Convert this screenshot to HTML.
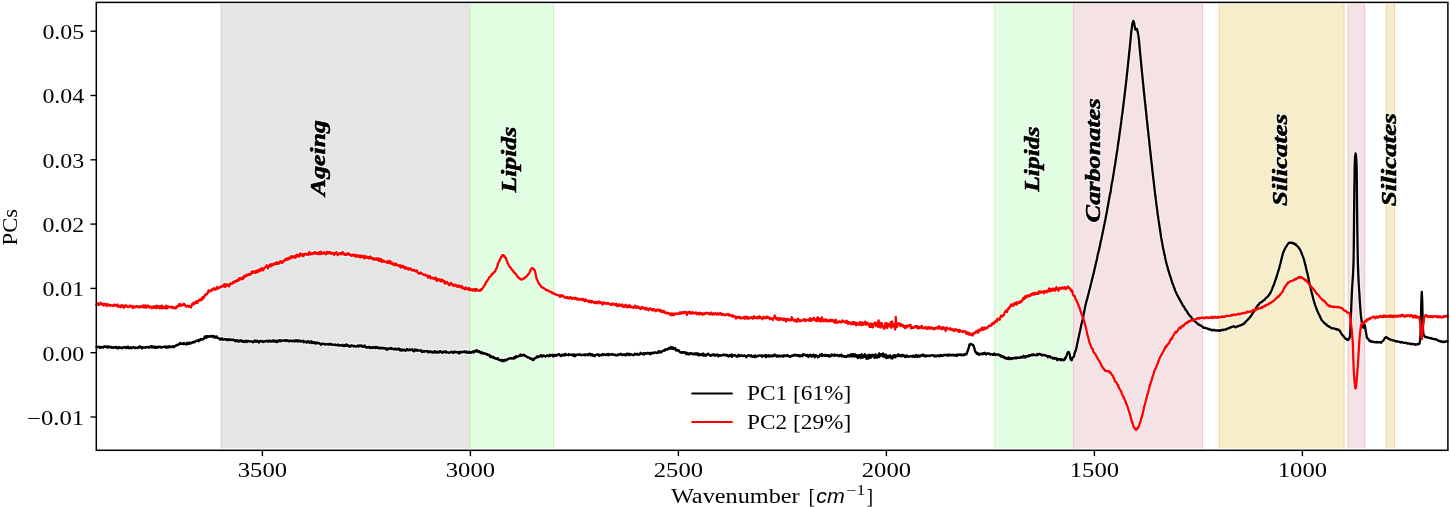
<!DOCTYPE html>
<html><head><meta charset="utf-8"><style>
html,body{margin:0;padding:0;background:#fff;width:1450px;height:507px;overflow:hidden}
svg{display:block;will-change:transform}
.tk{font-family:"Liberation Serif",serif;font-size:20px;fill:#000}
.mi{font-family:"Liberation Sans",sans-serif;font-style:italic;font-size:20px;fill:#000}
.sup{font-family:"Liberation Serif",serif;font-size:14px;fill:#000}
.bl{font-family:"Liberation Serif",serif;font-weight:bold;font-style:italic;font-size:21px;fill:#000;stroke-linejoin:round}
.halo{stroke:#fff;stroke-width:2.6px;stroke-opacity:0.6}
.ink{stroke:#000;stroke-width:0.55px}
</style></head><body>
<svg width="1450" height="507" viewBox="0 0 1450 507">
<rect x="0" y="0" width="1450" height="507" fill="#ffffff"/>
<rect x="221.10" y="3.9" width="249.30" height="444.5" fill="#e4e5e5"/>
<path d="M221.10,3.9V448.4M470.40,3.9V448.4" stroke="#d3d6d6" stroke-width="1.1" fill="none"/>
<rect x="470.40" y="3.9" width="83.20" height="444.5" fill="#e2fee2"/>
<path d="M470.40,3.9V448.4M553.60,3.9V448.4" stroke="#c6fac6" stroke-width="1.1" fill="none"/>
<rect x="994.56" y="3.9" width="79.04" height="444.5" fill="#e2fee2"/>
<path d="M994.56,3.9V448.4M1073.60,3.9V448.4" stroke="#c6fac6" stroke-width="1.1" fill="none"/>
<rect x="1073.60" y="3.9" width="128.96" height="444.5" fill="#f4e2e4"/>
<path d="M1073.60,3.9V448.4M1202.56,3.9V448.4" stroke="#efc6ca" stroke-width="1.1" fill="none"/>
<rect x="1219.20" y="3.9" width="124.80" height="444.5" fill="#f6edcb"/>
<path d="M1219.20,3.9V448.4M1344.00,3.9V448.4" stroke="#eed79a" stroke-width="1.1" fill="none"/>
<rect x="1348.20" y="3.9" width="16.40" height="444.5" fill="#f4e2e4"/>
<path d="M1348.20,3.9V448.4M1364.60,3.9V448.4" stroke="#efc6ca" stroke-width="1.1" fill="none"/>
<rect x="1386.20" y="3.9" width="8.40" height="444.5" fill="#f6edcb"/>
<path d="M1386.20,3.9V448.4M1394.60,3.9V448.4" stroke="#eed79a" stroke-width="1.1" fill="none"/>
<g>
<text transform="translate(324.6,158.0) rotate(-90)" text-anchor="middle" textLength="76" lengthAdjust="spacingAndGlyphs" class="bl halo">Ageing</text><text transform="translate(324.6,158.0) rotate(-90)" text-anchor="middle" textLength="76" lengthAdjust="spacingAndGlyphs" class="bl ink">Ageing</text>
<text transform="translate(516.0,159.7) rotate(-90)" text-anchor="middle" textLength="65.7" lengthAdjust="spacingAndGlyphs" class="bl halo">Lipids</text><text transform="translate(516.0,159.7) rotate(-90)" text-anchor="middle" textLength="65.7" lengthAdjust="spacingAndGlyphs" class="bl ink">Lipids</text>
<text transform="translate(1038.7,159.2) rotate(-90)" text-anchor="middle" textLength="65.2" lengthAdjust="spacingAndGlyphs" class="bl halo">Lipids</text><text transform="translate(1038.7,159.2) rotate(-90)" text-anchor="middle" textLength="65.2" lengthAdjust="spacingAndGlyphs" class="bl ink">Lipids</text>
<text transform="translate(1100.4,160.4) rotate(-90)" text-anchor="middle" textLength="124" lengthAdjust="spacingAndGlyphs" class="bl halo">Carbonates</text><text transform="translate(1100.4,160.4) rotate(-90)" text-anchor="middle" textLength="124" lengthAdjust="spacingAndGlyphs" class="bl ink">Carbonates</text>
<text transform="translate(1287.4,159.9) rotate(-90)" text-anchor="middle" textLength="92.0" lengthAdjust="spacingAndGlyphs" class="bl halo">Silicates</text><text transform="translate(1287.4,159.9) rotate(-90)" text-anchor="middle" textLength="92.0" lengthAdjust="spacingAndGlyphs" class="bl ink">Silicates</text>
<text transform="translate(1396.2,159.7) rotate(-90)" text-anchor="middle" textLength="93.0" lengthAdjust="spacingAndGlyphs" class="bl halo">Silicates</text><text transform="translate(1396.2,159.7) rotate(-90)" text-anchor="middle" textLength="93.0" lengthAdjust="spacingAndGlyphs" class="bl ink">Silicates</text>
</g>
<defs><path id="pr" d="M96.50,304.69 L96.95,303.98 L97.40,303.08 L97.85,303.63 L98.30,303.55 L98.75,304.99 L99.20,304.44 L99.65,304.44 L100.10,303.72 L100.55,302.65 L101.00,303.42 L101.45,303.47 L101.90,304.54 L102.35,304.45 L102.80,303.87 L103.25,304.31 L103.70,305.58 L104.15,304.00 L104.60,303.91 L105.05,304.42 L105.50,304.22 L105.95,304.50 L106.40,305.37 L106.85,306.06 L107.30,303.84 L107.75,304.84 L108.20,305.08 L108.65,305.02 L109.10,304.97 L109.55,305.01 L110.00,305.87 L110.45,305.00 L110.90,305.16 L111.35,305.33 L111.80,305.43 L112.25,305.37 L112.70,306.13 L113.15,305.56 L113.60,305.61 L113.80,305.39 L114.05,304.71 L114.50,304.76 L114.95,304.76 L115.40,305.57 L115.85,305.03 L116.30,304.84 L116.75,305.80 L117.20,305.94 L117.65,304.65 L118.10,306.81 L118.55,305.94 L119.00,305.82 L119.45,306.58 L119.90,305.93 L120.35,305.64 L120.80,307.32 L121.25,305.33 L121.70,305.84 L122.15,306.46 L122.60,305.28 L123.05,305.87 L123.50,306.51 L123.95,307.73 L124.40,305.63 L124.85,306.03 L125.30,306.58 L125.75,306.14 L126.20,305.32 L126.65,306.36 L127.10,306.34 L127.55,306.64 L128.00,307.17 L128.45,307.11 L128.90,306.68 L129.35,306.44 L129.80,305.52 L130.25,306.14 L130.70,306.45 L131.15,306.09 L131.60,306.33 L132.05,305.94 L132.50,307.63 L132.95,308.07 L133.40,306.39 L133.85,306.69 L134.30,306.45 L134.75,307.41 L135.20,306.94 L135.65,306.59 L136.10,306.39 L136.55,306.53 L137.00,305.91 L137.45,306.91 L137.90,306.19 L138.35,306.94 L138.80,306.86 L139.25,307.43 L139.70,306.83 L140.15,307.31 L140.60,306.16 L141.05,307.02 L141.50,306.61 L141.95,306.84 L142.40,306.88 L142.85,307.24 L143.30,305.41 L143.75,306.68 L144.20,305.84 L144.65,307.34 L145.10,305.40 L145.55,305.76 L146.00,305.67 L146.45,307.75 L146.90,306.07 L147.35,306.77 L147.80,306.33 L148.25,305.50 L148.70,306.54 L149.15,307.33 L149.30,306.91 L149.60,307.54 L150.05,306.74 L150.50,306.86 L150.95,306.69 L151.40,307.33 L151.85,308.39 L152.30,307.42 L152.75,307.10 L153.20,306.49 L153.65,306.53 L154.10,307.89 L154.55,306.27 L155.00,306.26 L155.45,306.85 L155.90,306.91 L156.35,308.22 L156.80,305.57 L157.25,307.19 L157.70,307.53 L158.15,306.30 L158.60,306.58 L159.05,307.52 L159.50,308.26 L159.95,306.48 L160.40,306.01 L160.85,307.85 L161.30,308.32 L161.75,306.87 L162.20,305.69 L162.65,308.01 L163.10,307.28 L163.55,307.99 L164.00,307.25 L164.45,306.90 L164.90,307.00 L165.35,308.38 L165.80,308.21 L166.25,305.75 L166.70,306.54 L167.15,308.42 L167.60,307.03 L168.05,306.25 L168.50,307.14 L168.95,307.19 L169.40,307.16 L169.85,306.90 L170.30,306.98 L170.75,306.96 L171.20,307.42 L171.65,306.71 L172.10,307.00 L172.55,307.29 L173.00,308.26 L173.45,307.68 L173.90,307.30 L174.10,307.71 L174.35,307.73 L174.80,308.11 L175.25,307.77 L175.70,308.47 L176.15,307.98 L176.60,306.73 L177.05,306.25 L177.50,306.91 L177.95,306.50 L178.40,305.70 L178.85,304.43 L179.30,304.07 L179.75,305.49 L180.20,305.88 L180.65,305.67 L181.10,304.34 L181.20,305.68 L181.55,304.85 L182.00,305.40 L182.45,305.43 L182.90,304.63 L183.35,304.61 L183.80,303.74 L184.25,304.44 L184.70,304.20 L185.15,305.80 L185.60,305.90 L186.05,306.53 L186.50,306.22 L186.95,305.63 L187.40,306.27 L187.85,306.00 L188.30,306.69 L188.75,306.51 L189.20,305.68 L189.65,306.31 L190.10,306.41 L190.10,306.26 L190.55,307.12 L191.00,307.49 L191.45,305.84 L191.90,305.21 L192.35,303.70 L192.80,304.65 L193.25,304.07 L193.70,302.61 L194.15,303.85 L194.60,303.78 L195.05,302.53 L195.40,302.38 L195.50,302.07 L195.95,302.78 L196.40,301.12 L196.85,301.72 L197.30,303.03 L197.75,301.64 L198.20,301.46 L198.65,300.71 L199.10,299.75 L199.55,300.26 L200.00,300.28 L200.45,299.14 L200.90,299.79 L201.35,300.25 L201.80,299.65 L202.25,297.46 L202.50,297.41 L202.70,297.09 L203.15,298.54 L203.60,298.03 L204.05,297.45 L204.50,295.81 L204.95,295.06 L205.40,295.42 L205.85,294.94 L206.30,293.82 L206.75,293.99 L207.20,293.90 L207.65,293.06 L208.10,291.57 L208.55,290.44 L209.00,291.35 L209.45,291.46 L209.60,291.09 L209.90,290.73 L210.35,290.39 L210.80,291.07 L211.25,290.43 L211.70,290.16 L212.15,289.20 L212.60,289.22 L213.05,289.52 L213.50,288.53 L213.95,288.14 L214.40,288.75 L214.85,289.67 L215.30,289.03 L215.75,289.54 L216.20,288.33 L216.65,287.81 L217.10,286.93 L217.55,287.44 L218.00,288.71 L218.45,287.98 L218.90,288.01 L219.35,287.81 L219.80,287.12 L220.25,286.78 L220.30,287.03 L220.70,287.29 L221.15,287.04 L221.60,286.86 L222.05,286.39 L222.50,285.60 L222.95,285.68 L223.40,285.27 L223.85,286.20 L224.30,284.18 L224.75,285.36 L225.20,287.03 L225.65,285.10 L226.10,284.26 L226.55,284.98 L227.00,285.76 L227.45,284.78 L227.90,285.03 L228.35,284.56 L228.80,284.36 L229.25,286.45 L229.70,284.36 L230.15,283.51 L230.60,283.43 L231.05,283.92 L231.50,283.90 L231.95,283.96 L232.40,283.24 L232.85,282.07 L233.30,283.10 L233.75,282.50 L234.20,282.15 L234.50,281.25 L234.65,281.73 L235.10,281.56 L235.55,281.71 L236.00,280.67 L236.45,281.40 L236.90,281.24 L237.35,280.14 L237.80,280.11 L238.25,279.88 L238.70,280.55 L239.15,278.16 L239.60,279.03 L240.05,278.10 L240.50,278.70 L240.95,279.31 L241.40,278.14 L241.85,278.19 L242.30,277.52 L242.75,279.06 L243.20,278.31 L243.65,277.87 L244.10,275.87 L244.55,275.74 L245.00,276.96 L245.45,275.98 L245.90,275.63 L246.35,275.68 L246.80,274.54 L246.90,275.75 L247.25,275.26 L247.70,275.21 L248.15,274.33 L248.60,274.76 L249.05,273.95 L249.50,274.85 L249.95,274.92 L250.40,274.56 L250.85,274.08 L251.30,273.64 L251.75,271.38 L252.20,273.35 L252.65,272.73 L253.10,272.68 L253.55,272.16 L254.00,271.23 L254.45,271.67 L254.90,272.50 L255.35,272.79 L255.80,271.18 L256.00,270.92 L256.25,272.28 L256.70,270.89 L257.15,272.45 L257.60,270.99 L258.05,270.11 L258.50,271.25 L258.95,271.46 L259.40,269.36 L259.85,270.88 L260.30,269.80 L260.75,270.55 L261.20,269.07 L261.65,268.04 L262.10,269.28 L262.55,269.69 L263.00,270.35 L263.45,269.91 L263.90,268.87 L264.35,267.89 L264.80,267.44 L265.25,267.34 L265.70,266.84 L266.15,266.81 L266.60,265.28 L267.05,266.84 L267.50,266.98 L267.95,268.49 L268.40,267.13 L268.85,265.98 L269.30,266.28 L269.75,264.96 L270.20,264.96 L270.65,264.22 L271.10,266.23 L271.55,265.59 L272.00,264.16 L272.45,264.72 L272.90,265.33 L273.35,264.91 L273.80,264.50 L274.25,263.45 L274.70,263.39 L275.15,263.84 L275.60,264.17 L276.05,262.79 L276.50,262.46 L276.95,263.71 L277.40,262.44 L277.70,263.51 L277.85,263.10 L278.30,263.39 L278.75,263.81 L279.20,262.97 L279.65,262.62 L280.10,261.25 L280.55,261.21 L281.00,262.10 L281.45,262.68 L281.90,262.57 L282.35,262.87 L282.80,261.32 L283.25,260.96 L283.70,261.27 L284.15,260.45 L284.60,260.04 L285.05,259.33 L285.50,260.36 L285.95,259.02 L286.40,259.63 L286.85,258.44 L287.30,259.72 L287.75,258.42 L288.20,259.19 L288.65,257.55 L289.10,258.14 L289.55,259.07 L290.00,257.71 L290.45,257.95 L290.90,257.32 L291.35,256.04 L291.80,257.62 L292.25,257.66 L292.70,256.57 L293.15,257.38 L293.60,256.39 L294.05,256.08 L294.50,256.59 L294.95,256.33 L295.40,257.94 L295.85,255.53 L296.30,256.74 L296.75,256.75 L297.20,254.56 L297.65,254.57 L298.10,256.06 L298.55,255.50 L299.00,256.01 L299.40,256.42 L299.45,255.33 L299.90,254.47 L300.35,253.39 L300.80,255.17 L301.25,254.65 L301.70,255.36 L302.15,255.19 L302.60,254.22 L303.05,256.17 L303.50,255.89 L303.95,255.41 L304.40,253.92 L304.85,254.20 L305.30,254.11 L305.75,254.05 L306.20,253.62 L306.65,254.59 L307.10,254.52 L307.55,254.45 L308.00,253.93 L308.45,254.98 L308.90,254.02 L309.35,251.94 L309.80,253.17 L310.25,253.81 L310.70,254.43 L311.15,253.55 L311.60,253.38 L312.05,253.15 L312.50,253.92 L312.95,253.17 L313.40,252.90 L313.85,252.85 L314.30,253.63 L314.75,252.82 L315.20,252.07 L315.65,253.46 L316.10,252.78 L316.55,253.39 L317.00,253.54 L317.45,254.10 L317.90,253.89 L318.35,252.73 L318.80,252.76 L319.25,252.23 L319.70,254.15 L320.15,253.60 L320.60,254.02 L321.05,252.71 L321.10,251.63 L321.50,253.93 L321.95,253.22 L322.40,253.11 L322.85,253.12 L323.30,253.53 L323.75,253.31 L324.20,252.02 L324.65,253.62 L325.10,252.71 L325.55,252.81 L326.00,254.33 L326.45,253.84 L326.90,252.74 L327.35,251.72 L327.80,253.08 L328.25,253.49 L328.70,252.98 L329.15,252.14 L329.60,252.34 L330.05,252.19 L330.50,253.27 L330.95,253.87 L331.40,253.93 L331.85,252.79 L332.30,253.37 L332.75,253.61 L333.20,252.92 L333.65,253.31 L334.10,254.82 L334.55,253.72 L335.00,253.94 L335.45,253.11 L335.90,253.20 L336.35,252.15 L336.80,253.34 L337.25,254.47 L337.70,255.17 L338.15,254.58 L338.60,254.09 L339.05,253.55 L339.50,253.09 L339.95,253.44 L340.40,253.93 L340.85,253.17 L341.30,254.13 L341.75,252.86 L342.20,252.21 L342.65,252.65 L342.80,252.29 L343.10,252.68 L343.55,254.42 L344.00,253.75 L344.45,254.05 L344.90,254.81 L345.35,254.85 L345.80,253.79 L346.25,254.91 L346.70,254.41 L347.15,254.14 L347.60,254.30 L348.05,253.11 L348.50,253.52 L348.95,254.19 L349.40,254.73 L349.85,254.17 L350.30,254.42 L350.75,255.34 L351.20,255.77 L351.65,255.45 L352.10,255.68 L352.55,254.60 L353.00,254.64 L353.45,255.12 L353.90,254.79 L354.35,254.85 L354.80,256.30 L355.25,255.17 L355.70,254.66 L356.15,255.84 L356.60,256.86 L357.05,255.90 L357.50,256.50 L357.95,255.48 L358.40,255.35 L358.85,255.34 L359.30,255.97 L359.75,257.26 L360.20,255.62 L360.65,257.20 L361.10,255.70 L361.55,256.20 L362.00,257.10 L362.45,257.10 L362.90,256.73 L363.35,255.57 L363.80,256.80 L364.25,256.38 L364.50,258.64 L364.70,257.03 L365.15,257.03 L365.60,256.24 L366.05,256.60 L366.50,256.36 L366.95,257.90 L367.40,257.36 L367.85,257.81 L368.30,257.09 L368.75,257.35 L369.20,258.53 L369.65,257.08 L370.10,256.56 L370.55,258.02 L371.00,257.26 L371.45,257.83 L371.90,258.80 L372.35,257.92 L372.80,258.93 L373.25,258.25 L373.70,259.75 L374.15,259.76 L374.60,258.57 L375.05,258.63 L375.50,258.39 L375.95,259.26 L376.40,259.90 L376.85,258.43 L377.30,259.80 L377.75,258.54 L378.20,258.69 L378.65,258.51 L379.10,261.15 L379.55,260.15 L380.00,260.12 L380.00,259.63 L380.45,260.63 L380.90,258.80 L381.35,260.36 L381.80,262.00 L382.25,260.48 L382.70,260.71 L383.15,261.21 L383.60,260.39 L384.05,261.07 L384.50,261.87 L384.95,261.54 L385.40,261.66 L385.85,261.35 L386.30,261.87 L386.75,262.00 L387.20,263.05 L387.65,262.69 L388.10,261.86 L388.55,260.61 L389.00,262.82 L389.45,263.12 L389.90,261.96 L390.35,261.24 L390.80,262.08 L391.25,263.60 L391.70,262.55 L392.15,263.00 L392.60,263.77 L392.80,264.50 L393.05,263.76 L393.50,263.69 L393.95,263.69 L394.40,265.30 L394.85,265.13 L395.30,264.26 L395.75,263.41 L396.20,263.99 L396.65,265.06 L397.10,264.53 L397.55,265.67 L398.00,265.57 L398.45,265.64 L398.90,266.03 L399.35,265.97 L399.80,265.17 L400.25,265.82 L400.70,267.61 L401.15,265.51 L401.60,266.01 L402.05,267.22 L402.50,266.56 L402.95,266.09 L403.40,265.98 L403.85,267.47 L404.30,268.17 L404.75,268.52 L405.20,267.82 L405.60,268.36 L405.65,267.08 L406.10,267.84 L406.55,267.57 L407.00,268.32 L407.45,269.00 L407.90,269.25 L408.35,268.16 L408.80,269.61 L409.25,268.67 L409.70,268.36 L410.15,268.97 L410.60,268.42 L411.05,269.55 L411.50,270.01 L411.95,269.92 L412.40,270.50 L412.85,270.15 L413.30,270.34 L413.75,269.63 L414.20,270.66 L414.65,270.36 L415.10,270.77 L415.55,271.27 L416.00,271.51 L416.45,270.39 L416.90,270.58 L417.35,271.74 L417.80,272.57 L418.25,272.78 L418.70,273.37 L419.15,273.81 L419.60,273.39 L420.05,273.03 L420.50,272.44 L420.95,272.63 L421.40,273.22 L421.85,273.96 L422.30,274.15 L422.75,274.14 L423.20,274.25 L423.65,274.94 L424.10,274.88 L424.55,275.08 L425.00,275.19 L425.45,274.70 L425.90,274.58 L426.35,275.79 L426.80,275.99 L427.25,275.67 L427.70,275.88 L428.15,277.69 L428.60,275.96 L429.05,276.28 L429.50,276.71 L429.95,276.01 L430.40,277.11 L430.50,278.39 L430.85,278.01 L431.30,277.87 L431.75,277.93 L432.20,277.82 L432.65,278.44 L433.10,277.85 L433.55,277.76 L434.00,278.35 L434.45,279.08 L434.90,278.93 L435.35,279.04 L435.80,277.57 L436.25,279.90 L436.70,281.09 L437.15,280.47 L437.60,279.30 L438.05,279.03 L438.50,279.83 L438.95,279.33 L439.40,280.50 L439.85,280.04 L440.30,281.19 L440.75,281.46 L441.20,279.41 L441.65,280.84 L442.10,280.43 L442.55,280.05 L443.00,280.74 L443.45,281.36 L443.90,282.22 L444.35,280.88 L444.80,282.73 L445.25,283.68 L445.70,282.89 L446.15,282.82 L446.60,282.46 L447.05,281.87 L447.50,283.13 L447.95,283.35 L448.40,283.89 L448.85,285.22 L449.30,284.18 L449.75,284.04 L450.20,284.70 L450.65,282.87 L451.10,282.96 L451.55,283.64 L452.00,283.77 L452.45,284.76 L452.90,284.47 L453.35,285.97 L453.80,286.06 L454.00,285.46 L454.25,284.72 L454.70,285.48 L455.15,285.67 L455.60,284.58 L456.05,285.58 L456.50,286.04 L456.95,285.96 L457.40,286.97 L457.85,286.77 L458.30,285.47 L458.75,286.00 L459.20,285.64 L459.65,286.57 L460.00,285.91 L460.10,287.05 L460.55,287.01 L461.00,287.41 L461.45,286.67 L461.90,286.06 L462.35,288.23 L462.80,287.40 L463.25,288.40 L463.70,288.02 L464.15,288.36 L464.60,289.22 L465.05,288.49 L465.50,289.00 L465.95,287.37 L466.40,288.84 L466.85,288.39 L467.30,288.51 L467.75,288.77 L468.20,289.26 L468.65,290.03 L469.10,287.89 L469.55,288.97 L469.70,288.79 L470.00,290.00 L470.45,289.19 L470.90,289.70 L471.35,289.35 L471.80,290.17 L472.25,290.48 L472.70,289.63 L473.15,289.78 L473.60,289.01 L474.05,290.25 L474.50,290.76 L474.95,290.02 L475.40,290.88 L475.85,288.82 L476.30,288.79 L476.75,289.27 L477.20,290.05 L477.65,290.52 L478.10,290.56 L478.55,290.60 L478.90,290.79 L479.00,290.44 L479.45,290.11 L479.90,290.07 L480.35,290.67 L480.80,289.34 L481.25,289.58 L481.50,289.93 L481.70,289.50 L482.15,288.61 L482.60,288.18 L483.05,287.73 L483.50,287.05 L483.70,286.21 L483.95,286.22 L484.40,285.46 L484.85,284.96 L485.30,284.26 L485.75,282.96 L486.20,281.87 L486.65,281.64 L487.10,281.30 L487.55,280.27 L488.00,279.45 L488.45,279.24 L488.90,277.74 L489.35,277.52 L489.60,276.87 L489.80,276.76 L490.25,276.34 L490.70,276.19 L491.15,275.11 L491.60,274.67 L492.05,274.02 L492.50,274.10 L492.95,273.47 L493.10,273.47 L493.40,272.76 L493.85,272.49 L494.30,272.38 L494.75,271.57 L495.20,271.15 L495.50,270.66 L495.65,270.11 L496.10,268.90 L496.55,268.47 L497.00,267.14 L497.45,265.98 L497.90,263.92 L498.35,262.73 L498.50,262.29 L498.80,261.99 L499.25,261.46 L499.70,260.26 L500.15,259.05 L500.60,258.20 L501.00,257.71 L501.05,257.39 L501.50,256.91 L501.95,256.18 L502.40,255.07 L502.85,255.24 L503.20,255.66 L503.30,255.24 L503.75,255.44 L504.20,255.76 L504.65,256.42 L505.10,257.50 L505.30,257.43 L505.55,257.52 L506.00,258.04 L506.45,259.91 L506.90,260.90 L507.35,262.12 L507.50,263.19 L507.80,263.74 L508.25,263.89 L508.70,265.34 L509.15,265.99 L509.60,266.35 L510.05,267.31 L510.50,267.33 L510.95,267.97 L511.00,268.00 L511.40,268.70 L511.85,269.80 L512.30,269.82 L512.75,270.37 L513.20,271.02 L513.65,271.88 L514.10,272.33 L514.55,273.12 L515.00,273.19 L515.45,273.49 L515.90,274.20 L516.00,274.46 L516.35,274.63 L516.80,275.54 L517.25,276.51 L517.70,276.47 L518.15,277.18 L518.60,278.05 L519.05,278.00 L519.50,278.29 L519.95,278.60 L520.40,279.27 L520.85,279.44 L521.00,279.27 L521.30,279.34 L521.75,279.62 L522.20,279.37 L522.65,278.60 L523.10,278.75 L523.55,278.65 L524.00,278.56 L524.45,278.05 L524.90,277.64 L525.35,277.36 L525.50,276.96 L525.80,277.19 L526.25,276.75 L526.70,276.53 L527.15,275.65 L527.60,275.19 L528.05,274.45 L528.50,273.86 L528.95,273.70 L529.00,273.40 L529.40,272.91 L529.85,271.62 L530.30,270.84 L530.75,269.42 L531.20,268.83 L531.65,268.26 L532.10,268.25 L532.20,268.15 L532.55,268.13 L533.00,268.61 L533.45,268.84 L533.90,269.41 L534.35,270.02 L534.50,269.98 L534.80,270.54 L535.25,272.27 L535.70,274.17 L536.15,276.57 L536.60,278.70 L536.90,279.56 L537.05,279.54 L537.50,280.35 L537.95,281.63 L538.40,282.56 L538.85,283.63 L539.30,283.93 L539.50,284.24 L539.75,284.80 L540.20,285.04 L540.65,285.65 L541.10,286.66 L541.55,287.06 L542.00,287.18 L542.45,287.37 L542.80,287.33 L542.90,287.79 L543.35,288.04 L543.80,288.36 L544.25,288.48 L544.70,288.88 L545.15,289.15 L545.60,289.60 L546.05,290.16 L546.50,290.07 L546.95,289.72 L547.40,290.07 L547.85,290.18 L548.30,290.66 L548.75,291.30 L548.80,291.30 L549.20,291.23 L549.65,291.63 L550.10,291.55 L550.55,291.53 L551.00,291.73 L551.45,292.16 L551.90,292.93 L552.35,292.50 L552.80,293.34 L553.25,293.59 L553.70,293.35 L554.00,293.44 L554.15,293.37 L554.60,293.73 L555.05,294.12 L555.50,294.20 L555.95,294.66 L556.40,294.92 L556.85,294.88 L557.30,295.02 L557.75,295.11 L558.20,295.34 L558.65,295.16 L559.10,295.69 L559.55,295.79 L560.00,295.54 L560.00,296.97 L560.45,295.52 L560.90,295.55 L561.35,296.17 L561.80,295.17 L562.25,295.72 L562.70,295.52 L563.15,295.94 L563.60,296.59 L564.05,297.05 L564.50,297.60 L564.95,297.60 L565.40,297.84 L565.85,297.53 L566.30,297.07 L566.75,297.87 L567.20,297.13 L567.65,297.17 L568.10,298.42 L568.55,298.19 L569.00,297.92 L569.45,298.28 L569.90,298.30 L570.00,297.13 L570.35,297.69 L570.80,297.33 L571.25,298.02 L571.70,297.88 L572.15,299.00 L572.60,298.64 L573.05,297.95 L573.50,298.30 L573.95,297.83 L574.40,298.57 L574.85,299.01 L575.30,298.79 L575.75,297.70 L576.20,298.59 L576.65,299.24 L577.10,299.32 L577.55,299.69 L578.00,298.54 L578.45,299.39 L578.90,298.97 L579.35,299.46 L579.80,299.73 L580.25,299.88 L580.70,299.30 L581.15,299.62 L581.60,298.95 L582.05,298.92 L582.50,300.06 L582.95,299.81 L583.40,298.99 L583.85,299.45 L584.30,300.19 L584.75,301.17 L585.10,301.03 L585.20,300.68 L585.65,299.37 L586.10,300.27 L586.55,300.79 L587.00,300.87 L587.45,300.90 L587.90,300.75 L588.35,301.91 L588.80,301.85 L589.25,300.94 L589.70,300.62 L590.15,302.19 L590.60,301.11 L591.05,302.06 L591.50,302.47 L591.95,301.05 L592.40,301.59 L592.85,301.45 L593.30,301.97 L593.75,302.11 L594.20,303.01 L594.65,302.38 L595.10,302.10 L595.55,302.68 L596.00,302.03 L596.45,302.14 L596.90,303.48 L597.35,302.00 L597.80,302.09 L598.25,302.41 L598.70,301.81 L599.15,301.42 L599.60,303.10 L600.00,302.34 L600.05,302.37 L600.50,302.51 L600.95,302.23 L601.40,302.28 L601.85,303.21 L602.30,304.53 L602.75,303.80 L603.20,303.58 L603.65,302.46 L604.10,303.12 L604.55,302.76 L605.00,303.79 L605.45,303.44 L605.90,303.57 L606.35,303.54 L606.80,303.23 L607.25,302.87 L607.70,303.92 L608.15,303.02 L608.60,303.11 L609.05,303.66 L609.50,303.62 L609.95,304.25 L610.40,304.75 L610.85,304.42 L611.30,304.38 L611.75,304.39 L612.20,304.72 L612.65,303.43 L613.10,304.47 L613.55,303.92 L614.00,303.79 L614.45,304.51 L614.90,304.50 L615.35,305.12 L615.80,305.29 L616.25,303.57 L616.70,304.82 L617.15,306.13 L617.60,305.74 L618.05,305.95 L618.50,305.16 L618.95,304.26 L619.40,304.51 L619.85,305.66 L620.30,305.87 L620.75,305.00 L621.20,305.24 L621.65,305.48 L622.10,304.52 L622.55,305.37 L623.00,306.70 L623.45,307.06 L623.90,305.98 L624.35,306.81 L624.80,305.63 L625.25,305.25 L625.70,304.69 L626.15,306.39 L626.60,306.11 L627.05,307.49 L627.50,306.57 L627.95,306.26 L628.40,305.40 L628.85,307.08 L629.30,306.32 L629.50,306.18 L629.75,305.28 L630.20,307.00 L630.65,307.20 L631.10,306.40 L631.55,306.76 L632.00,307.09 L632.45,307.43 L632.90,307.15 L633.35,307.94 L633.80,306.96 L634.25,306.67 L634.70,306.63 L635.15,305.63 L635.60,306.67 L636.05,307.84 L636.50,307.53 L636.95,306.99 L637.40,307.47 L637.85,306.38 L638.30,307.32 L638.75,307.98 L639.20,308.09 L639.65,307.44 L640.10,308.43 L640.55,309.00 L641.00,307.88 L641.45,308.29 L641.90,307.08 L642.35,306.92 L642.80,308.40 L643.25,308.33 L643.70,308.38 L644.15,308.02 L644.60,308.28 L645.05,309.06 L645.50,309.59 L645.95,308.50 L646.40,307.81 L646.85,309.40 L647.30,309.30 L647.75,309.33 L648.20,309.26 L648.65,310.37 L649.10,309.33 L649.55,309.31 L650.00,308.14 L650.45,308.77 L650.90,308.92 L651.35,309.39 L651.80,309.64 L652.25,309.29 L652.70,310.51 L653.15,309.20 L653.40,309.44 L653.60,309.81 L654.05,309.21 L654.50,310.24 L654.95,310.42 L655.40,310.13 L655.85,311.28 L656.30,310.49 L656.75,310.47 L657.20,309.81 L657.65,309.47 L658.10,310.13 L658.55,310.47 L659.00,310.59 L659.45,311.15 L659.90,309.61 L660.35,310.15 L660.80,310.16 L661.25,311.90 L661.70,311.13 L662.15,311.08 L662.60,310.99 L663.05,312.10 L663.50,311.64 L663.80,311.82 L663.95,310.83 L664.40,312.57 L664.85,312.48 L665.30,312.69 L665.75,313.13 L666.20,312.50 L666.65,312.63 L667.10,313.27 L667.55,313.27 L668.00,313.03 L668.45,313.26 L668.90,313.20 L669.35,314.02 L669.80,314.31 L670.25,314.05 L670.70,314.94 L671.15,313.31 L671.60,314.06 L672.05,315.21 L672.50,314.11 L672.95,313.55 L673.40,315.17 L673.85,314.79 L674.10,313.87 L674.30,314.75 L674.75,313.81 L675.20,313.54 L675.65,314.12 L676.10,313.89 L676.55,313.47 L677.00,313.70 L677.45,313.34 L677.90,313.78 L678.35,313.73 L678.80,313.95 L679.25,313.11 L679.70,312.38 L680.15,312.27 L680.60,312.89 L681.05,313.82 L681.50,313.33 L681.95,312.42 L682.40,312.99 L682.85,311.97 L683.30,312.91 L683.75,312.30 L684.20,312.83 L684.40,312.76 L684.65,312.28 L685.10,312.47 L685.55,311.80 L686.00,312.38 L686.45,313.36 L686.90,314.98 L687.35,313.23 L687.80,312.60 L688.25,312.11 L688.70,313.08 L689.15,311.77 L689.60,312.20 L690.05,312.86 L690.50,312.29 L690.95,313.77 L691.40,313.63 L691.85,312.67 L692.00,312.51 L692.30,312.08 L692.75,312.14 L693.20,313.24 L693.65,313.48 L694.10,313.36 L694.55,313.25 L695.00,312.86 L695.45,313.22 L695.90,312.36 L696.35,313.21 L696.80,314.17 L697.25,314.08 L697.70,313.07 L698.15,313.16 L698.60,314.21 L699.05,314.35 L699.50,312.58 L699.95,313.03 L700.40,313.58 L700.85,314.07 L701.30,313.08 L701.75,313.74 L702.20,313.51 L702.65,314.87 L703.10,313.92 L703.55,313.46 L704.00,313.42 L704.45,314.20 L704.90,313.98 L705.35,313.05 L705.80,313.58 L706.25,312.84 L706.70,313.05 L707.15,312.80 L707.60,312.81 L708.05,313.18 L708.40,313.19 L708.50,314.07 L708.95,314.28 L709.40,313.66 L709.85,313.24 L710.30,314.10 L710.75,312.64 L711.20,312.70 L711.65,314.26 L712.10,314.45 L712.55,314.56 L713.00,313.84 L713.45,313.22 L713.90,313.68 L714.35,314.28 L714.80,313.61 L715.25,313.52 L715.70,313.16 L716.15,313.40 L716.60,314.57 L717.05,314.39 L717.50,313.46 L717.95,313.44 L718.40,313.85 L718.85,314.43 L719.30,313.61 L719.75,313.94 L720.20,312.95 L720.65,313.47 L721.10,314.56 L721.55,314.84 L722.00,313.74 L722.45,313.95 L722.90,314.83 L723.35,314.27 L723.80,314.21 L724.25,314.82 L724.70,314.81 L725.15,315.32 L725.60,315.14 L726.05,314.40 L726.50,314.61 L726.95,314.62 L727.40,313.95 L727.85,314.26 L728.30,315.27 L728.75,314.17 L729.20,315.47 L729.65,315.27 L730.10,315.08 L730.55,315.49 L731.00,315.62 L731.45,315.98 L731.90,315.18 L732.10,315.19 L732.35,315.40 L732.80,316.74 L733.25,316.48 L733.70,315.68 L734.15,316.19 L734.60,316.38 L735.05,317.05 L735.50,317.57 L735.95,318.58 L736.00,316.56 L736.40,317.88 L736.85,317.67 L737.30,317.03 L737.75,317.25 L738.20,317.14 L738.65,317.51 L739.10,317.93 L739.55,316.76 L740.00,318.10 L740.45,317.48 L740.90,318.37 L741.35,317.94 L741.80,318.30 L742.25,318.02 L742.70,318.20 L743.15,317.59 L743.60,317.12 L744.05,317.93 L744.50,318.17 L744.95,318.68 L745.40,316.55 L745.85,317.39 L746.30,318.08 L746.75,316.92 L747.20,317.52 L747.65,318.90 L748.10,318.50 L748.55,317.29 L749.00,318.44 L749.45,318.44 L749.90,318.17 L750.35,317.90 L750.80,317.71 L751.25,317.09 L751.70,317.31 L752.15,318.01 L752.60,317.89 L753.05,318.68 L753.50,317.39 L753.95,316.19 L754.40,317.28 L754.85,317.80 L755.30,317.88 L755.75,317.64 L756.20,317.28 L756.65,318.40 L757.10,317.42 L757.55,317.99 L758.00,317.45 L758.45,317.04 L758.90,318.21 L759.35,316.25 L759.80,317.02 L760.25,317.87 L760.70,317.52 L761.15,318.18 L761.60,317.63 L762.05,317.54 L762.50,319.22 L762.95,317.72 L763.40,317.46 L763.85,316.82 L764.30,317.12 L764.75,318.19 L765.20,318.21 L765.65,317.73 L766.10,317.29 L766.55,318.04 L767.00,316.53 L767.45,317.34 L767.60,317.48 L767.90,317.15 L768.35,317.78 L768.80,317.26 L769.25,317.34 L769.70,319.20 L770.15,318.71 L770.60,318.87 L771.05,318.16 L771.50,318.75 L771.95,318.77 L772.40,319.22 L772.85,319.92 L773.30,318.14 L773.75,318.27 L774.20,317.79 L774.65,315.35 L775.10,316.81 L775.55,318.18 L776.00,318.71 L776.45,318.05 L776.90,319.30 L777.35,319.46 L777.80,318.38 L778.25,319.71 L778.70,320.07 L779.15,319.00 L779.60,318.03 L780.05,319.68 L780.50,318.67 L780.95,318.43 L781.40,318.78 L781.85,318.51 L782.30,319.73 L782.75,319.75 L783.20,320.05 L783.65,319.49 L784.10,318.44 L784.55,318.95 L785.00,319.75 L785.45,319.20 L785.90,321.47 L786.35,319.26 L786.80,318.88 L787.25,320.25 L787.30,320.02 L787.70,319.36 L788.15,319.22 L788.60,319.82 L789.05,320.26 L789.50,320.18 L789.95,319.42 L790.40,320.00 L790.85,320.46 L791.30,320.08 L791.75,317.14 L792.20,318.62 L792.65,319.05 L793.10,319.61 L793.55,320.14 L794.00,320.82 L794.45,320.61 L794.90,320.00 L795.35,320.27 L795.80,321.56 L796.25,319.84 L796.70,320.55 L797.15,321.64 L797.60,320.48 L798.05,318.55 L798.50,320.34 L798.95,319.98 L799.40,320.27 L799.85,321.27 L800.00,320.80 L800.30,320.22 L800.75,321.11 L801.20,320.79 L801.65,320.46 L802.10,320.59 L802.55,320.50 L803.00,319.93 L803.45,319.80 L803.90,320.10 L804.35,319.22 L804.80,319.10 L805.25,321.22 L805.70,320.10 L806.15,320.10 L806.60,320.02 L807.05,320.13 L807.50,320.14 L807.95,320.06 L808.40,319.43 L808.85,320.74 L809.30,319.61 L809.75,320.67 L810.20,318.17 L810.65,318.85 L811.10,320.74 L811.55,319.82 L812.00,319.29 L812.45,320.04 L812.90,318.92 L813.35,319.53 L813.80,317.65 L814.25,319.03 L814.70,319.18 L815.15,320.33 L815.60,320.58 L816.05,319.22 L816.50,321.14 L816.95,319.10 L817.40,317.34 L817.85,317.31 L818.30,320.92 L818.75,319.73 L819.20,318.96 L819.65,318.74 L819.70,318.69 L820.10,320.90 L820.55,320.01 L821.00,321.46 L821.45,319.46 L821.90,317.49 L822.35,320.27 L822.80,319.50 L823.25,319.74 L823.70,321.36 L824.15,319.97 L824.60,321.06 L825.05,320.01 L825.50,319.31 L825.95,320.39 L826.40,319.71 L826.85,321.43 L827.30,321.32 L827.75,320.51 L828.20,321.00 L828.65,320.97 L829.10,320.32 L829.55,321.31 L830.00,320.49 L830.45,321.06 L830.90,319.78 L831.35,320.74 L831.80,321.10 L832.25,320.04 L832.70,320.31 L833.15,320.46 L833.60,321.59 L834.05,320.50 L834.50,321.68 L834.95,322.82 L835.40,321.60 L835.85,319.75 L836.30,321.42 L836.75,322.44 L837.20,321.45 L837.65,322.67 L838.10,322.38 L838.55,322.08 L839.00,321.39 L839.45,321.13 L839.50,321.40 L839.90,321.84 L840.35,322.37 L840.80,322.27 L841.25,321.63 L841.70,321.98 L842.15,322.14 L842.60,320.34 L843.05,320.97 L843.50,321.16 L843.95,321.77 L844.40,321.81 L844.85,321.78 L845.30,321.41 L845.75,322.83 L846.20,322.44 L846.65,320.76 L847.10,322.04 L847.55,321.51 L848.00,323.89 L848.45,322.19 L848.90,322.08 L849.35,322.55 L849.80,322.39 L850.25,322.72 L850.70,324.17 L851.15,323.19 L851.60,323.69 L852.05,323.83 L852.50,322.18 L852.95,324.44 L853.40,323.86 L853.85,323.81 L854.30,322.30 L854.75,323.72 L855.20,323.45 L855.65,322.84 L856.10,325.36 L856.55,323.94 L857.00,323.00 L857.45,323.47 L857.90,324.32 L858.35,324.61 L858.80,324.20 L859.20,324.87 L859.25,324.87 L859.70,322.19 L860.15,322.59 L860.60,322.37 L861.05,323.65 L861.50,325.22 L861.95,324.34 L862.40,322.45 L862.85,323.29 L863.30,324.75 L863.75,323.21 L864.20,323.59 L864.65,323.86 L865.10,321.72 L865.55,324.61 L866.00,324.55 L866.45,324.57 L866.90,322.64 L867.35,322.70 L867.80,323.14 L868.25,324.35 L868.70,324.29 L869.15,324.69 L869.60,327.13 L870.05,326.42 L870.50,323.30 L870.95,323.49 L871.40,326.90 L871.85,324.50 L872.30,326.97 L872.75,327.33 L873.20,323.86 L873.65,323.97 L874.10,324.47 L874.55,322.87 L875.00,322.58 L875.45,323.92 L875.90,326.11 L876.35,324.06 L876.80,324.18 L877.25,323.54 L877.70,322.43 L878.15,326.92 L878.60,320.45 L878.90,323.18 L879.05,325.57 L879.50,322.45 L879.95,326.24 L880.40,327.59 L880.85,323.70 L881.30,325.07 L881.75,323.04 L882.20,326.02 L882.65,325.64 L883.10,326.14 L883.55,328.41 L884.00,327.09 L884.45,328.55 L884.90,326.84 L885.35,323.22 L885.80,325.90 L886.25,326.29 L886.70,323.10 L887.15,328.05 L887.60,326.27 L888.05,326.26 L888.50,324.07 L888.95,325.79 L889.40,326.35 L889.85,325.31 L890.30,325.45 L890.75,322.23 L891.20,327.73 L891.65,323.71 L892.10,321.54 L892.55,323.60 L893.00,324.45 L893.45,326.58 L893.90,324.65 L894.35,326.12 L894.80,324.97 L895.20,329.51 L895.25,327.59 L895.70,321.62 L895.80,316.96 L896.15,323.80 L896.40,325.01 L896.60,327.04 L897.05,326.93 L897.50,323.55 L897.95,323.67 L898.40,323.58 L898.70,323.24 L898.85,324.21 L899.30,323.99 L899.75,323.61 L900.20,325.63 L900.65,326.15 L901.10,324.07 L901.55,324.83 L902.00,325.61 L902.45,325.37 L902.90,325.06 L903.35,326.70 L903.80,326.93 L904.25,326.66 L904.70,326.02 L905.15,328.14 L905.60,327.90 L906.05,325.81 L906.50,326.03 L906.95,327.11 L907.40,325.58 L907.85,326.46 L908.30,326.24 L908.75,325.63 L909.20,325.88 L909.65,324.94 L910.10,325.58 L910.55,324.98 L911.00,328.37 L911.45,328.17 L911.90,327.81 L912.35,327.14 L912.80,327.67 L913.25,327.97 L913.70,327.82 L914.15,327.58 L914.60,326.32 L915.05,327.13 L915.50,326.50 L915.95,325.96 L916.40,326.12 L916.85,327.41 L917.30,327.83 L917.75,326.40 L918.20,328.50 L918.40,328.43 L918.65,327.03 L919.10,326.86 L919.55,327.27 L920.00,327.98 L920.45,327.03 L920.90,326.53 L921.35,327.33 L921.80,325.93 L922.25,327.44 L922.70,328.32 L923.15,327.86 L923.60,328.12 L924.05,328.00 L924.50,328.11 L924.95,327.64 L925.40,326.95 L925.85,327.34 L926.30,327.64 L926.75,328.67 L927.20,328.97 L927.65,328.04 L928.10,327.11 L928.55,327.09 L929.00,327.64 L929.45,328.76 L929.90,328.12 L930.35,327.70 L930.80,327.32 L931.25,328.41 L931.70,328.13 L932.15,327.86 L932.60,328.11 L933.05,329.12 L933.50,328.12 L933.95,329.27 L934.40,329.03 L934.85,328.23 L935.30,328.66 L935.75,327.97 L936.20,327.45 L936.65,327.76 L937.10,327.50 L937.55,328.45 L938.00,328.30 L938.10,328.68 L938.45,328.59 L938.90,326.11 L939.35,328.07 L939.80,327.06 L940.25,328.23 L940.70,327.77 L941.15,328.53 L941.60,329.29 L942.05,327.39 L942.50,328.49 L942.95,328.34 L943.40,327.28 L943.85,328.92 L944.30,328.70 L944.75,328.27 L945.20,328.46 L945.65,330.99 L946.10,328.66 L946.55,327.44 L947.00,328.03 L947.45,328.56 L947.90,328.66 L948.35,328.84 L948.80,328.36 L949.25,329.37 L949.70,328.74 L950.15,328.11 L950.60,328.51 L951.05,329.03 L951.50,329.98 L951.95,329.80 L952.40,329.26 L952.85,329.52 L953.30,329.91 L953.75,331.06 L954.20,329.46 L954.65,330.09 L955.10,330.28 L955.55,329.26 L956.00,329.99 L956.45,330.08 L956.90,329.78 L957.35,330.58 L957.80,331.08 L957.90,331.09 L958.25,330.24 L958.70,330.66 L959.15,332.02 L959.60,329.93 L960.05,330.72 L960.50,331.34 L960.95,331.01 L961.40,331.37 L961.85,331.22 L962.30,331.75 L962.75,332.16 L963.20,331.28 L963.65,331.55 L964.10,331.49 L964.55,331.39 L965.00,331.66 L965.45,331.20 L965.90,332.68 L966.35,333.69 L966.80,333.88 L967.25,333.53 L967.70,332.26 L967.70,333.64 L968.15,332.51 L968.60,333.21 L969.05,334.67 L969.50,333.21 L969.95,334.57 L970.40,334.57 L970.85,334.35 L971.30,334.05 L971.70,334.88 L971.75,334.50 L972.20,335.48 L972.65,335.40 L973.10,333.45 L973.55,333.65 L974.00,333.54 L974.45,332.66 L974.90,332.44 L975.35,332.97 L975.80,332.42 L976.25,331.15 L976.70,331.62 L977.15,332.05 L977.60,330.70 L977.60,330.97 L978.05,332.56 L978.50,332.12 L978.95,329.81 L979.40,329.69 L979.85,330.63 L980.30,329.55 L980.75,329.88 L981.20,329.73 L981.65,329.98 L982.10,327.69 L982.55,327.55 L983.00,328.30 L983.45,329.71 L983.90,328.74 L984.35,327.52 L984.80,328.79 L985.25,328.85 L985.70,327.97 L986.15,327.67 L986.60,328.07 L987.05,328.36 L987.50,327.47 L987.50,327.59 L987.95,326.93 L988.40,326.33 L988.85,325.76 L989.30,326.23 L989.75,325.66 L990.20,325.47 L990.65,325.99 L991.10,325.51 L991.55,325.22 L992.00,323.37 L992.45,324.27 L992.90,323.29 L993.35,322.69 L993.80,322.49 L994.25,323.60 L994.70,323.02 L995.15,321.49 L995.60,320.80 L996.05,321.18 L996.50,320.77 L996.95,321.61 L997.30,319.23 L997.40,318.75 L997.85,319.49 L998.30,319.45 L998.75,319.22 L999.20,319.40 L999.65,319.77 L1000.10,317.72 L1000.55,316.82 L1001.00,315.67 L1001.45,316.62 L1001.90,316.69 L1002.35,315.62 L1002.80,316.00 L1003.25,314.97 L1003.70,315.36 L1004.15,314.04 L1004.60,312.49 L1005.05,312.10 L1005.50,310.98 L1005.95,310.44 L1006.40,311.41 L1006.85,311.62 L1007.20,311.88 L1007.30,310.40 L1007.75,309.44 L1008.20,308.36 L1008.65,309.09 L1009.10,308.10 L1009.55,306.82 L1010.00,307.05 L1010.45,306.35 L1010.90,304.41 L1011.10,305.88 L1011.35,305.47 L1011.80,304.78 L1012.25,304.67 L1012.70,305.99 L1013.15,305.87 L1013.60,305.61 L1014.05,303.38 L1014.50,303.45 L1014.95,304.29 L1015.40,302.81 L1015.85,302.74 L1016.30,302.20 L1016.75,304.53 L1017.20,304.10 L1017.65,303.43 L1018.10,302.99 L1018.55,302.34 L1019.00,302.21 L1019.45,302.62 L1019.90,301.71 L1020.00,302.78 L1020.35,301.48 L1020.80,300.95 L1021.25,302.03 L1021.70,300.89 L1022.15,300.80 L1022.60,299.61 L1023.05,298.05 L1023.50,299.32 L1023.95,298.03 L1024.40,298.98 L1024.85,296.90 L1025.30,296.27 L1025.75,297.50 L1026.20,297.46 L1026.65,296.88 L1026.80,296.02 L1027.10,297.06 L1027.55,295.45 L1028.00,295.73 L1028.45,295.44 L1028.90,295.64 L1029.35,296.25 L1029.80,295.23 L1030.25,295.80 L1030.70,295.62 L1031.15,293.80 L1031.60,293.89 L1032.05,294.34 L1032.50,294.19 L1032.95,294.48 L1033.40,293.05 L1033.85,294.63 L1034.30,294.67 L1034.75,293.78 L1035.20,292.82 L1035.65,293.54 L1036.10,293.26 L1036.55,293.83 L1037.00,293.42 L1037.45,293.72 L1037.90,293.02 L1038.35,293.82 L1038.80,291.29 L1039.25,291.91 L1039.70,292.83 L1040.15,291.62 L1040.60,292.77 L1041.05,291.58 L1041.50,292.15 L1041.95,291.48 L1042.40,291.68 L1042.85,292.03 L1043.30,291.75 L1043.50,291.71 L1043.75,293.26 L1044.20,291.74 L1044.65,290.91 L1045.10,292.07 L1045.55,292.10 L1046.00,292.32 L1046.45,292.41 L1046.90,290.58 L1047.35,291.67 L1047.80,291.71 L1048.25,290.81 L1048.70,290.49 L1049.15,288.30 L1049.60,289.87 L1050.05,291.37 L1050.50,289.02 L1050.95,289.58 L1051.40,290.21 L1051.85,290.50 L1052.30,290.88 L1052.75,288.61 L1053.20,289.58 L1053.65,290.05 L1054.10,288.59 L1054.55,289.39 L1055.00,290.76 L1055.45,290.37 L1055.90,289.39 L1056.35,287.20 L1056.80,288.67 L1057.25,289.12 L1057.70,288.61 L1058.15,288.94 L1058.60,290.86 L1059.05,288.62 L1059.50,287.82 L1059.95,288.51 L1060.30,288.17 L1060.40,288.13 L1060.85,288.30 L1061.30,288.82 L1061.75,288.31 L1062.20,287.25 L1062.65,287.87 L1063.10,288.25 L1063.55,287.70 L1064.00,288.68 L1064.45,288.33 L1064.90,287.08 L1065.35,287.95 L1065.80,289.18 L1066.25,288.83 L1066.70,287.67 L1067.15,288.04 L1067.60,286.89 L1068.05,286.36 L1068.50,287.69 L1068.70,287.67 L1068.95,287.84 L1069.40,287.85 L1069.85,288.53 L1070.30,288.72 L1070.75,290.10 L1071.00,290.74 L1071.20,290.49 L1071.65,291.50 L1072.10,290.54 L1072.55,291.99 L1073.00,294.54 L1073.45,295.69 L1073.90,295.49 L1074.35,295.91 L1074.80,296.14 L1075.25,298.12 L1075.70,299.26 L1076.15,299.41 L1076.60,301.18 L1077.00,302.17 L1077.05,302.17 L1077.50,302.62 L1077.95,304.20 L1078.40,304.66 L1078.85,306.88 L1079.30,307.52 L1079.75,308.19 L1080.20,310.38 L1080.65,311.55 L1081.10,312.16 L1081.55,314.39 L1082.00,314.53 L1082.45,316.30 L1082.90,317.91 L1083.35,318.03 L1083.80,320.61 L1083.80,320.33 L1084.25,321.73 L1084.70,322.99 L1085.15,325.20 L1085.60,326.49 L1086.05,328.38 L1086.50,330.48 L1086.95,332.24 L1087.40,335.15 L1087.85,335.92 L1088.30,337.81 L1088.75,339.72 L1089.20,341.47 L1089.65,343.22 L1090.00,344.18 L1090.10,343.95 L1090.55,344.99 L1091.00,346.27 L1091.45,347.63 L1091.90,348.51 L1092.35,348.81 L1092.80,349.18 L1093.25,351.69 L1093.70,352.19 L1094.15,352.63 L1094.60,353.36 L1095.05,353.74 L1095.50,354.29 L1095.95,355.33 L1096.40,356.18 L1096.85,356.76 L1097.30,357.25 L1097.50,358.12 L1097.75,358.97 L1098.20,359.43 L1098.65,360.33 L1099.10,360.40 L1099.55,361.94 L1100.00,362.84 L1100.45,363.13 L1100.90,363.74 L1101.35,365.31 L1101.50,365.20 L1101.80,366.13 L1102.25,366.62 L1102.70,367.75 L1103.15,368.08 L1103.60,368.29 L1104.05,369.42 L1104.50,369.90 L1104.95,370.52 L1105.00,370.12 L1105.40,370.27 L1105.85,370.92 L1106.30,371.17 L1106.75,371.09 L1107.20,371.21 L1107.65,371.05 L1108.10,371.23 L1108.55,371.37 L1108.80,371.23 L1109.00,371.13 L1109.45,371.56 L1109.90,372.83 L1110.35,372.44 L1110.80,372.83 L1111.25,373.49 L1111.70,374.42 L1112.15,375.30 L1112.60,375.53 L1113.05,376.06 L1113.50,377.74 L1113.95,377.96 L1114.40,379.43 L1114.40,379.54 L1114.85,380.75 L1115.30,381.72 L1115.75,381.91 L1116.20,382.20 L1116.65,382.71 L1117.10,383.71 L1117.55,384.81 L1118.00,384.90 L1118.45,386.57 L1118.90,387.55 L1119.35,388.66 L1119.80,389.19 L1120.00,389.69 L1120.25,389.87 L1120.70,390.78 L1121.15,391.24 L1121.60,392.98 L1122.05,394.55 L1122.50,394.97 L1122.95,395.86 L1123.40,396.38 L1123.85,398.21 L1124.30,398.47 L1124.75,400.02 L1125.20,400.79 L1125.65,401.48 L1126.10,403.33 L1126.55,404.15 L1127.00,405.35 L1127.45,406.67 L1127.50,406.59 L1127.90,407.61 L1128.35,409.30 L1128.80,410.48 L1129.25,412.15 L1129.70,413.41 L1130.15,414.68 L1130.60,416.62 L1131.05,418.38 L1131.50,420.24 L1131.95,422.12 L1132.20,421.84 L1132.40,423.01 L1132.85,423.80 L1133.30,425.80 L1133.75,427.25 L1134.10,427.10 L1134.20,427.37 L1134.65,428.62 L1135.10,428.98 L1135.55,429.04 L1136.00,428.96 L1136.00,430.08 L1136.45,429.07 L1136.90,428.43 L1137.35,428.95 L1137.80,428.04 L1137.80,427.64 L1138.25,427.54 L1138.70,426.32 L1139.15,425.39 L1139.60,423.97 L1140.05,422.23 L1140.50,421.66 L1140.70,420.77 L1140.95,419.47 L1141.40,418.11 L1141.85,417.17 L1142.30,414.96 L1142.75,413.27 L1143.20,411.62 L1143.65,409.38 L1144.10,406.78 L1144.55,405.67 L1145.00,403.97 L1145.45,402.09 L1145.90,400.51 L1146.30,398.49 L1146.35,398.45 L1146.80,397.04 L1147.25,394.72 L1147.70,393.85 L1148.15,392.29 L1148.60,390.34 L1149.05,389.11 L1149.50,387.10 L1149.95,384.89 L1150.00,385.46 L1150.40,383.90 L1150.85,382.39 L1151.30,380.89 L1151.75,379.91 L1152.20,378.14 L1152.65,376.23 L1153.10,375.33 L1153.55,374.09 L1154.00,372.20 L1154.00,372.25 L1154.45,371.02 L1154.90,369.73 L1155.35,368.94 L1155.80,368.12 L1156.25,367.31 L1156.70,365.89 L1157.15,364.66 L1157.60,363.61 L1158.05,362.54 L1158.50,360.83 L1158.90,360.30 L1158.95,360.06 L1159.40,358.86 L1159.85,357.75 L1160.30,356.81 L1160.75,355.96 L1161.20,354.78 L1161.65,354.60 L1162.10,353.62 L1162.55,352.84 L1163.00,352.16 L1163.45,351.47 L1163.90,350.16 L1164.35,349.44 L1164.80,348.02 L1165.00,347.35 L1165.25,347.20 L1165.70,347.80 L1166.15,345.93 L1166.60,346.08 L1167.05,345.83 L1167.50,344.46 L1167.95,344.59 L1168.40,344.07 L1168.85,343.10 L1169.30,342.90 L1169.75,341.49 L1170.20,340.22 L1170.65,339.97 L1171.10,338.91 L1171.55,337.82 L1171.60,337.91 L1172.00,338.70 L1172.45,337.00 L1172.90,336.33 L1173.35,335.43 L1173.80,335.03 L1174.25,334.22 L1174.70,333.43 L1175.15,332.45 L1175.60,331.77 L1176.00,331.62 L1176.05,332.15 L1176.50,332.42 L1176.95,331.63 L1177.40,331.38 L1177.85,330.37 L1178.30,329.56 L1178.75,328.66 L1179.20,328.65 L1179.65,327.50 L1180.10,327.91 L1180.55,328.39 L1181.00,327.60 L1181.00,327.79 L1181.45,326.76 L1181.90,325.93 L1182.35,325.90 L1182.80,325.72 L1183.25,326.11 L1183.70,326.03 L1184.15,324.59 L1184.60,324.29 L1185.05,324.07 L1185.50,323.64 L1185.95,323.01 L1186.40,323.27 L1186.50,323.40 L1186.85,323.12 L1187.30,322.21 L1187.75,322.22 L1188.20,321.44 L1188.65,322.12 L1189.10,321.21 L1189.55,321.16 L1190.00,320.95 L1190.45,320.66 L1190.90,320.28 L1191.35,320.00 L1191.80,320.76 L1192.10,320.36 L1192.25,320.32 L1192.70,320.63 L1193.15,319.95 L1193.60,319.91 L1194.05,319.70 L1194.50,319.86 L1194.95,319.58 L1195.40,319.36 L1195.85,319.10 L1196.30,319.15 L1196.75,319.20 L1197.20,318.27 L1197.65,318.61 L1198.10,318.50 L1198.55,318.38 L1199.00,317.91 L1199.45,318.49 L1199.90,318.08 L1200.35,318.13 L1200.80,317.96 L1201.25,317.60 L1201.70,317.80 L1202.15,317.42 L1202.60,317.61 L1203.05,317.79 L1203.10,317.90 L1203.50,317.89 L1203.95,317.88 L1204.40,318.44 L1204.85,317.94 L1205.30,317.39 L1205.75,317.48 L1206.20,317.48 L1206.65,317.58 L1207.10,317.44 L1207.55,317.42 L1208.00,318.06 L1208.45,317.65 L1208.90,317.47 L1209.35,317.46 L1209.80,317.52 L1210.25,317.93 L1210.70,317.73 L1211.15,317.72 L1211.60,316.63 L1212.05,317.48 L1212.50,317.83 L1212.95,318.03 L1213.40,317.43 L1213.85,316.92 L1214.30,317.46 L1214.75,317.14 L1215.20,316.77 L1215.65,317.11 L1216.10,317.61 L1216.55,317.67 L1217.00,317.45 L1217.45,317.03 L1217.90,317.83 L1218.35,316.90 L1218.80,317.00 L1218.90,316.74 L1219.25,317.43 L1219.70,317.26 L1220.15,317.28 L1220.60,317.02 L1221.05,316.90 L1221.50,316.84 L1221.95,316.31 L1222.40,317.01 L1222.85,316.98 L1223.30,316.56 L1223.75,316.57 L1224.20,316.66 L1224.65,316.93 L1225.10,316.56 L1225.55,316.32 L1226.00,316.04 L1226.45,315.69 L1226.90,315.87 L1227.35,316.01 L1227.80,315.87 L1228.25,315.90 L1228.70,316.02 L1229.15,315.87 L1229.60,315.74 L1230.05,315.75 L1230.50,315.54 L1230.95,315.40 L1231.40,315.38 L1231.85,314.79 L1232.30,315.39 L1232.75,314.77 L1233.20,315.18 L1233.65,314.97 L1234.10,315.14 L1234.55,314.76 L1234.70,314.49 L1235.00,314.95 L1235.45,314.68 L1235.90,314.55 L1236.35,314.50 L1236.80,314.67 L1237.25,314.56 L1237.70,314.24 L1238.15,313.67 L1238.60,313.87 L1239.05,314.04 L1239.50,314.42 L1239.95,313.97 L1240.40,313.75 L1240.85,313.97 L1241.30,313.56 L1241.75,313.46 L1242.20,313.37 L1242.65,312.91 L1243.10,313.45 L1243.55,313.27 L1244.00,312.92 L1244.45,312.61 L1244.90,312.92 L1245.35,313.14 L1245.80,312.48 L1246.25,312.24 L1246.70,312.48 L1247.15,311.83 L1247.60,311.53 L1248.05,311.91 L1248.50,311.81 L1248.95,311.80 L1249.40,311.65 L1249.85,311.76 L1250.30,311.50 L1250.50,311.32 L1250.75,311.32 L1251.20,311.53 L1251.65,311.53 L1252.10,311.39 L1252.55,311.05 L1253.00,309.84 L1253.45,310.24 L1253.90,310.39 L1254.35,310.35 L1254.80,309.80 L1255.25,310.42 L1255.70,310.02 L1256.15,309.58 L1256.60,309.59 L1257.05,309.28 L1257.50,309.02 L1257.95,309.16 L1258.40,308.72 L1258.85,308.25 L1259.30,308.28 L1259.75,308.23 L1260.20,307.87 L1260.65,308.23 L1261.10,307.54 L1261.55,308.04 L1262.00,307.63 L1262.45,306.90 L1262.90,306.97 L1263.35,307.04 L1263.80,306.43 L1264.25,305.92 L1264.70,306.11 L1265.15,306.34 L1265.60,305.25 L1266.05,305.46 L1266.30,305.24 L1266.50,305.07 L1266.95,304.75 L1267.40,304.56 L1267.85,304.68 L1268.30,304.29 L1268.75,303.64 L1269.20,303.94 L1269.65,303.00 L1270.10,303.16 L1270.55,302.84 L1271.00,302.79 L1271.45,302.30 L1271.90,302.12 L1272.35,301.55 L1272.80,301.45 L1273.25,301.04 L1273.70,301.09 L1274.15,300.05 L1274.60,300.11 L1275.05,299.59 L1275.50,299.08 L1275.95,298.51 L1276.40,298.32 L1276.85,297.41 L1277.30,297.04 L1277.75,297.14 L1278.20,296.25 L1278.65,296.53 L1279.10,295.72 L1279.55,295.35 L1280.00,294.87 L1280.00,294.94 L1280.45,294.24 L1280.90,293.62 L1281.35,293.08 L1281.80,292.73 L1282.25,292.06 L1282.70,291.30 L1283.15,290.22 L1283.60,289.17 L1284.05,288.00 L1284.50,287.82 L1284.95,287.14 L1285.40,286.08 L1285.85,285.70 L1286.30,285.18 L1286.75,284.30 L1287.20,283.98 L1287.65,283.29 L1287.90,282.52 L1288.10,282.67 L1288.55,282.45 L1289.00,282.37 L1289.45,281.74 L1289.90,281.54 L1290.35,281.19 L1290.80,281.21 L1291.25,281.08 L1291.70,281.13 L1292.15,280.89 L1292.60,280.51 L1293.05,280.31 L1293.50,280.09 L1293.95,279.95 L1294.40,280.04 L1294.85,278.82 L1295.30,279.17 L1295.70,279.25 L1295.75,279.40 L1296.20,278.63 L1296.65,278.76 L1297.10,278.67 L1297.55,278.03 L1298.00,277.39 L1298.45,277.54 L1298.90,277.23 L1299.35,277.52 L1299.80,277.14 L1300.25,277.72 L1300.50,277.30 L1300.70,276.99 L1301.15,277.10 L1301.60,277.14 L1302.05,277.78 L1302.50,278.35 L1302.95,278.23 L1303.40,278.75 L1303.85,278.65 L1304.30,279.37 L1304.75,280.21 L1305.20,279.65 L1305.20,280.27 L1305.65,280.60 L1306.10,280.14 L1306.55,280.61 L1307.00,281.30 L1307.45,282.32 L1307.90,282.52 L1308.35,283.12 L1308.80,283.91 L1309.25,284.33 L1309.70,284.89 L1310.15,285.35 L1310.60,286.23 L1311.05,286.37 L1311.50,287.47 L1311.50,286.96 L1311.95,287.34 L1312.40,288.26 L1312.85,288.72 L1313.30,288.64 L1313.75,289.68 L1314.20,289.88 L1314.65,290.60 L1315.10,291.58 L1315.55,291.77 L1316.00,292.59 L1316.45,293.07 L1316.90,294.18 L1317.35,294.19 L1317.80,294.35 L1318.25,294.87 L1318.70,295.49 L1319.15,296.30 L1319.60,296.83 L1320.00,297.51 L1320.05,297.37 L1320.50,297.81 L1320.95,298.31 L1321.40,298.67 L1321.85,299.24 L1322.30,299.84 L1322.75,300.25 L1323.20,300.25 L1323.65,300.30 L1324.10,300.98 L1324.50,301.59 L1324.55,300.94 L1325.00,301.87 L1325.45,302.60 L1325.90,302.77 L1326.35,303.12 L1326.80,304.36 L1327.25,304.73 L1327.70,304.71 L1328.15,305.49 L1328.60,305.81 L1329.05,305.55 L1329.50,306.69 L1329.95,306.01 L1330.40,306.17 L1330.40,306.00 L1330.85,306.35 L1331.30,306.11 L1331.75,306.54 L1332.20,306.93 L1332.65,306.75 L1333.10,306.70 L1333.55,307.16 L1334.00,306.63 L1334.45,307.08 L1334.90,306.85 L1335.10,306.97 L1335.35,306.97 L1335.80,307.03 L1336.25,307.00 L1336.70,306.84 L1337.15,306.95 L1337.60,307.28 L1338.05,307.16 L1338.50,306.91 L1338.95,307.07 L1339.40,307.19 L1339.85,307.47 L1339.90,307.57 L1340.30,307.66 L1340.75,307.70 L1341.20,308.12 L1341.65,308.04 L1342.10,308.03 L1342.55,309.11 L1343.00,309.13 L1343.40,309.54 L1343.45,309.59 L1343.90,310.32 L1344.35,310.18 L1344.80,310.77 L1345.25,310.84 L1345.70,310.84 L1346.15,311.04 L1346.60,311.87 L1347.00,312.17 L1347.05,312.34 L1347.50,312.82 L1347.95,312.59 L1348.40,312.72 L1348.85,312.89 L1349.30,313.31 L1349.40,313.28 L1349.75,314.09 L1350.20,316.92 L1350.50,317.75 L1350.65,319.25 L1351.10,323.50 L1351.55,328.36 L1351.70,329.73 L1352.00,333.05 L1352.45,337.95 L1352.90,344.68 L1352.90,344.94 L1353.35,360.02 L1353.60,367.25 L1353.80,370.93 L1354.25,377.49 L1354.70,383.44 L1355.15,386.99 L1355.60,388.60 L1355.60,388.54 L1356.05,386.98 L1356.50,382.61 L1356.95,377.08 L1357.40,371.01 L1357.70,367.45 L1357.85,365.67 L1358.30,358.52 L1358.75,350.13 L1359.20,342.90 L1359.50,338.66 L1359.65,336.90 L1360.10,332.70 L1360.55,328.78 L1361.00,325.63 L1361.30,324.55 L1361.45,324.84 L1361.90,323.73 L1362.35,322.64 L1362.80,324.11 L1363.25,322.85 L1363.30,322.48 L1363.70,322.62 L1364.15,321.86 L1364.60,322.60 L1365.05,320.94 L1365.50,320.73 L1365.90,321.08 L1365.95,320.93 L1366.40,321.43 L1366.85,319.51 L1367.30,319.27 L1367.75,319.34 L1368.20,319.21 L1368.50,319.27 L1368.65,319.03 L1369.10,319.65 L1369.55,318.27 L1370.00,318.35 L1370.45,318.56 L1370.90,317.88 L1371.35,317.69 L1371.80,317.49 L1372.25,317.26 L1372.70,316.94 L1373.15,317.06 L1373.60,316.62 L1374.05,317.37 L1374.50,316.63 L1374.95,318.33 L1375.40,318.28 L1375.85,317.80 L1376.30,316.99 L1376.75,316.78 L1377.20,317.59 L1377.65,317.14 L1378.10,317.15 L1378.55,316.58 L1379.00,317.28 L1379.45,316.44 L1379.90,316.64 L1380.35,315.78 L1380.80,316.27 L1381.25,316.86 L1381.30,316.44 L1381.70,316.43 L1382.15,317.00 L1382.60,316.70 L1383.05,317.07 L1383.50,315.41 L1383.95,316.72 L1384.40,316.73 L1384.85,315.65 L1385.30,315.77 L1385.75,316.79 L1386.20,315.92 L1386.65,316.09 L1387.10,316.69 L1387.55,316.32 L1388.00,316.59 L1388.45,316.00 L1388.90,316.56 L1389.35,316.99 L1389.80,316.47 L1390.25,315.27 L1390.70,316.55 L1391.15,316.35 L1391.60,315.95 L1392.05,316.88 L1392.50,315.60 L1392.95,317.12 L1393.40,316.17 L1393.85,317.05 L1394.30,316.25 L1394.75,315.54 L1395.20,316.21 L1395.65,316.42 L1396.10,316.57 L1396.55,316.71 L1396.70,315.79 L1397.00,316.40 L1397.45,316.53 L1397.90,315.95 L1398.35,315.50 L1398.80,315.53 L1399.25,316.39 L1399.70,316.39 L1400.15,315.47 L1400.60,315.23 L1401.05,316.33 L1401.50,315.11 L1401.95,315.73 L1402.40,315.24 L1402.85,314.76 L1403.30,315.64 L1403.75,315.67 L1404.20,316.54 L1404.65,316.90 L1405.10,315.72 L1405.55,316.18 L1406.00,316.16 L1406.45,315.30 L1406.90,315.18 L1406.90,316.33 L1407.35,315.48 L1407.80,315.53 L1408.25,315.44 L1408.70,315.51 L1409.15,315.40 L1409.60,316.17 L1410.05,316.47 L1410.50,315.64 L1410.95,315.17 L1411.40,315.83 L1411.85,315.25 L1412.30,315.80 L1412.75,316.99 L1413.20,317.65 L1413.65,316.70 L1414.10,316.03 L1414.55,316.80 L1415.00,315.53 L1415.45,316.39 L1415.90,317.70 L1416.20,317.36 L1416.35,316.21 L1416.80,316.17 L1417.25,317.49 L1417.70,317.24 L1418.15,317.08 L1418.60,317.68 L1419.05,317.37 L1419.20,316.87 L1419.50,318.89 L1419.95,320.97 L1420.30,323.31 L1420.40,324.08 L1420.85,330.17 L1421.10,332.60 L1421.30,335.28 L1421.75,338.48 L1421.80,339.09 L1422.20,335.90 L1422.50,332.46 L1422.65,330.24 L1423.10,325.14 L1423.40,323.47 L1423.55,323.57 L1424.00,318.77 L1424.45,316.52 L1424.90,316.05 L1425.10,315.99 L1425.35,315.45 L1425.80,315.68 L1426.25,314.96 L1426.70,315.67 L1427.15,316.49 L1427.60,316.90 L1428.05,316.07 L1428.50,316.03 L1428.95,316.52 L1429.40,316.96 L1429.85,316.67 L1430.30,316.12 L1430.75,316.73 L1431.20,317.07 L1431.65,316.23 L1432.10,315.94 L1432.55,316.87 L1432.60,316.95 L1433.00,317.20 L1433.45,316.73 L1433.90,316.30 L1434.35,316.32 L1434.80,316.03 L1435.25,316.06 L1435.70,316.27 L1436.15,316.44 L1436.60,317.13 L1437.05,316.08 L1437.50,316.50 L1437.95,316.43 L1438.40,317.40 L1438.85,316.84 L1439.30,316.49 L1439.75,317.02 L1440.20,316.66 L1440.65,316.44 L1441.10,317.39 L1441.55,317.14 L1442.00,317.57 L1442.45,317.29 L1442.90,316.99 L1443.35,316.53 L1443.80,315.94 L1444.25,316.73 L1444.70,316.52 L1445.15,316.72 L1445.60,316.33 L1446.05,315.87 L1446.50,315.73 L1446.95,316.60 L1447.40,316.88 L1447.40,316.11"/><path id="pb" d="M96.50,347.22 L96.95,347.34 L97.40,347.05 L97.85,346.76 L98.30,346.91 L98.75,346.75 L99.20,347.31 L99.65,347.89 L100.10,347.09 L100.55,346.99 L101.00,347.52 L101.45,347.52 L101.90,347.33 L102.35,346.89 L102.80,347.31 L103.25,347.60 L103.70,346.72 L104.15,346.95 L104.60,346.35 L105.05,346.54 L105.50,346.41 L105.95,347.10 L106.40,346.80 L106.85,347.47 L107.30,347.50 L107.75,347.19 L108.20,346.18 L108.65,347.03 L109.10,347.40 L109.55,347.41 L110.00,346.70 L110.45,347.08 L110.90,346.92 L111.35,347.09 L111.80,347.89 L112.25,347.16 L112.70,347.48 L113.15,347.88 L113.60,347.26 L113.80,347.42 L114.05,347.55 L114.50,347.47 L114.95,346.93 L115.40,347.56 L115.85,348.08 L116.30,346.91 L116.75,347.85 L117.20,347.60 L117.65,347.35 L118.10,348.50 L118.55,347.95 L119.00,347.02 L119.45,347.54 L119.90,347.82 L120.35,347.54 L120.80,347.87 L121.25,347.61 L121.70,347.97 L122.15,348.26 L122.60,347.34 L123.05,347.60 L123.50,347.37 L123.95,347.54 L124.40,346.98 L124.85,347.22 L125.30,347.51 L125.75,348.07 L126.20,348.11 L126.65,346.98 L127.10,347.17 L127.55,347.74 L128.00,346.65 L128.45,347.25 L128.90,347.60 L129.35,348.24 L129.80,347.99 L130.25,347.46 L130.70,347.39 L131.15,347.55 L131.50,348.29 L131.60,347.47 L132.05,347.45 L132.50,347.74 L132.95,347.55 L133.40,347.42 L133.85,347.04 L134.30,347.49 L134.75,347.44 L135.20,348.15 L135.65,347.95 L136.10,347.63 L136.55,347.86 L137.00,347.49 L137.45,348.03 L137.90,347.63 L138.35,347.73 L138.80,346.96 L139.25,347.50 L139.70,346.59 L140.15,346.40 L140.60,347.16 L141.05,347.03 L141.50,347.62 L141.95,348.49 L142.40,347.14 L142.85,347.10 L143.30,347.51 L143.75,347.65 L144.20,347.34 L144.65,347.33 L145.10,347.74 L145.55,347.60 L146.00,346.89 L146.45,347.26 L146.90,347.29 L147.35,346.85 L147.80,347.34 L148.25,346.98 L148.70,347.74 L149.15,347.46 L149.30,347.32 L149.60,347.01 L150.05,347.08 L150.50,346.25 L150.95,346.63 L151.40,347.25 L151.85,346.31 L152.30,347.43 L152.75,346.51 L153.20,347.45 L153.65,346.93 L154.10,347.57 L154.55,347.25 L155.00,346.57 L155.45,347.81 L155.90,347.98 L156.35,347.25 L156.80,347.06 L157.25,347.05 L157.70,346.79 L158.15,347.63 L158.60,346.99 L159.05,347.08 L159.50,346.76 L159.95,346.75 L160.40,346.59 L160.85,347.68 L161.30,347.22 L161.75,347.61 L162.20,347.17 L162.65,346.79 L163.10,346.90 L163.55,346.84 L164.00,347.07 L164.45,346.91 L164.90,346.85 L165.35,346.37 L165.80,346.72 L166.25,347.78 L166.70,346.78 L167.15,346.53 L167.60,347.23 L168.05,347.65 L168.50,346.40 L168.95,346.79 L169.40,346.58 L169.85,346.15 L170.30,347.22 L170.75,347.00 L171.20,346.93 L171.65,346.60 L172.10,347.06 L172.50,346.66 L172.55,346.73 L173.00,346.24 L173.45,346.18 L173.90,347.16 L174.35,346.30 L174.80,346.36 L175.25,346.00 L175.70,345.53 L176.15,345.29 L176.60,345.51 L177.05,344.87 L177.50,344.64 L177.95,344.54 L178.40,344.84 L178.85,344.43 L179.30,344.01 L179.75,343.32 L180.20,342.88 L180.65,343.87 L181.10,343.91 L181.20,343.42 L181.55,343.70 L182.00,343.86 L182.45,343.91 L182.90,343.89 L183.35,343.36 L183.80,344.08 L184.25,343.01 L184.70,343.85 L185.15,343.84 L185.60,344.08 L186.05,344.58 L186.50,344.31 L186.95,343.00 L187.40,342.75 L187.85,343.82 L188.30,343.16 L188.75,343.58 L189.00,343.90 L189.20,342.73 L189.65,342.48 L190.10,343.52 L190.55,343.47 L191.00,343.24 L191.45,343.19 L191.90,342.61 L192.35,342.17 L192.80,342.57 L193.25,342.05 L193.70,341.63 L194.15,342.40 L194.60,342.09 L195.05,342.00 L195.50,341.18 L195.95,341.03 L196.40,340.70 L196.85,340.60 L197.30,340.88 L197.75,340.37 L198.20,340.69 L198.60,340.71 L198.65,341.29 L199.10,339.74 L199.55,340.42 L200.00,339.94 L200.45,339.69 L200.90,338.91 L201.35,339.23 L201.80,339.66 L202.25,339.20 L202.70,339.05 L203.15,338.81 L203.60,339.24 L204.05,338.46 L204.40,337.30 L204.50,337.78 L204.95,336.97 L205.40,336.19 L205.85,337.27 L206.30,337.98 L206.75,337.12 L207.20,336.22 L207.65,336.15 L208.10,336.91 L208.55,336.43 L209.00,336.24 L209.20,336.18 L209.45,336.26 L209.90,336.63 L210.35,336.55 L210.80,336.33 L211.25,335.83 L211.70,336.46 L212.15,336.13 L212.60,336.82 L213.05,335.91 L213.50,336.38 L213.95,336.49 L214.10,336.07 L214.40,337.49 L214.85,337.54 L215.30,336.84 L215.75,337.48 L216.20,337.39 L216.65,336.33 L217.10,337.74 L217.55,337.99 L218.00,338.19 L218.45,337.89 L218.90,338.38 L219.35,338.68 L219.80,339.38 L219.80,339.03 L220.25,338.97 L220.70,339.61 L221.15,338.75 L221.60,338.66 L222.05,338.23 L222.50,339.76 L222.95,339.70 L223.40,339.66 L223.85,339.53 L224.30,339.27 L224.75,339.29 L225.20,339.10 L225.65,339.14 L226.10,339.38 L226.55,340.07 L227.00,339.70 L227.45,339.36 L227.60,339.08 L227.90,339.19 L228.35,340.24 L228.80,339.88 L229.25,339.64 L229.70,339.43 L230.15,339.17 L230.60,339.75 L231.05,340.26 L231.50,339.79 L231.95,339.87 L232.40,339.97 L232.85,340.10 L233.30,339.46 L233.75,340.04 L234.20,339.99 L234.65,340.76 L235.10,340.21 L235.55,340.87 L236.00,341.34 L236.45,340.54 L236.90,340.38 L237.20,340.76 L237.35,340.66 L237.80,340.29 L238.25,341.05 L238.70,341.78 L239.15,340.81 L239.60,340.68 L240.05,340.39 L240.50,340.93 L240.95,340.30 L241.40,340.44 L241.85,341.49 L242.30,340.73 L242.75,341.61 L243.20,341.89 L243.65,341.35 L244.10,341.52 L244.55,342.11 L245.00,341.16 L245.45,340.82 L245.90,340.54 L246.35,341.27 L246.80,342.03 L247.25,341.77 L247.70,340.85 L248.15,340.82 L248.60,341.06 L249.05,341.45 L249.50,341.30 L249.95,341.49 L250.40,341.54 L250.85,341.29 L251.30,341.40 L251.75,341.53 L252.20,341.45 L252.65,341.81 L253.10,342.43 L253.55,341.88 L254.00,341.44 L254.45,340.71 L254.90,341.46 L255.35,340.50 L255.80,340.76 L256.25,341.87 L256.50,341.88 L256.70,341.37 L257.15,340.65 L257.60,341.18 L258.05,341.18 L258.50,341.89 L258.95,342.62 L259.40,341.67 L259.85,341.04 L260.30,340.85 L260.75,341.35 L261.20,341.29 L261.65,340.89 L262.10,341.35 L262.55,340.94 L263.00,341.94 L263.45,342.04 L263.90,341.95 L264.35,341.25 L264.80,341.58 L265.25,341.30 L265.70,341.13 L266.15,341.07 L266.60,340.59 L267.05,340.58 L267.50,341.58 L267.95,341.25 L268.40,341.42 L268.85,341.65 L269.30,340.42 L269.75,340.76 L270.20,341.28 L270.65,341.38 L271.00,341.10 L271.10,341.68 L271.55,341.28 L272.00,340.55 L272.45,340.69 L272.90,341.50 L273.35,341.29 L273.80,340.31 L274.25,341.67 L274.70,341.53 L275.15,341.72 L275.60,340.93 L276.05,340.80 L276.50,340.61 L276.95,342.14 L277.40,341.14 L277.85,341.68 L278.30,340.74 L278.75,340.87 L279.20,340.10 L279.65,340.68 L280.10,341.26 L280.55,340.39 L281.00,341.32 L281.45,341.01 L281.90,340.33 L282.35,340.50 L282.80,340.57 L283.25,340.73 L283.70,340.50 L284.15,340.36 L284.60,340.54 L285.00,340.21 L285.05,340.12 L285.50,340.75 L285.95,341.13 L286.40,340.13 L286.85,340.68 L287.30,340.45 L287.75,340.37 L288.20,341.15 L288.65,340.73 L289.10,341.49 L289.55,340.60 L290.00,341.00 L290.45,340.76 L290.90,340.56 L291.35,341.14 L291.80,340.93 L292.25,341.23 L292.70,340.91 L293.15,340.45 L293.60,340.89 L294.05,341.10 L294.50,341.45 L294.95,340.68 L295.40,340.90 L295.85,340.31 L296.30,341.27 L296.75,340.55 L297.20,340.23 L297.65,341.11 L298.10,341.64 L298.55,340.50 L299.00,340.59 L299.45,340.78 L299.90,340.73 L300.00,341.37 L300.35,340.91 L300.80,340.98 L301.25,341.56 L301.70,341.10 L302.15,341.54 L302.60,340.95 L303.05,340.75 L303.50,340.70 L303.95,342.35 L304.40,341.60 L304.85,341.77 L305.30,341.73 L305.75,341.84 L306.20,341.96 L306.65,342.72 L307.10,341.44 L307.55,341.10 L308.00,341.36 L308.45,341.42 L308.90,342.47 L309.35,342.58 L309.80,341.76 L310.25,341.57 L310.70,342.21 L311.15,342.92 L311.60,341.26 L312.05,342.58 L312.50,342.21 L312.95,343.06 L313.40,342.29 L313.85,342.53 L314.30,342.09 L314.75,342.48 L315.20,343.67 L315.65,343.54 L316.10,342.95 L316.55,342.66 L317.00,342.30 L317.45,343.04 L317.90,343.37 L318.35,343.43 L318.80,343.42 L319.25,343.05 L319.70,343.56 L320.15,343.78 L320.60,344.52 L321.05,344.82 L321.50,343.91 L321.95,343.59 L322.40,343.91 L322.85,343.74 L323.30,343.74 L323.75,344.06 L324.20,343.78 L324.65,344.52 L325.10,344.35 L325.55,344.49 L326.00,344.32 L326.45,344.07 L326.90,344.01 L327.35,344.36 L327.80,344.34 L328.25,344.72 L328.70,344.61 L329.00,344.05 L329.15,344.58 L329.60,344.07 L330.05,344.38 L330.50,344.50 L330.95,343.83 L331.40,344.79 L331.85,344.96 L332.30,344.83 L332.75,344.71 L333.20,344.71 L333.65,344.49 L334.10,344.80 L334.55,344.78 L335.00,345.01 L335.45,344.54 L335.90,345.17 L336.35,345.22 L336.80,345.09 L337.25,345.01 L337.70,345.36 L338.15,344.50 L338.60,345.40 L339.05,345.44 L339.50,345.48 L339.95,345.49 L340.40,345.04 L340.85,345.24 L341.30,345.70 L341.75,345.66 L342.20,345.46 L342.65,344.77 L343.10,345.71 L343.55,346.14 L344.00,346.08 L344.45,345.61 L344.90,344.87 L345.35,345.92 L345.80,345.42 L346.25,344.40 L346.70,345.57 L347.15,344.88 L347.60,344.92 L348.05,345.38 L348.50,346.26 L348.95,345.64 L349.40,345.96 L349.85,346.72 L350.30,346.65 L350.75,345.84 L351.20,345.64 L351.65,345.19 L352.10,345.49 L352.55,346.09 L353.00,346.14 L353.45,346.08 L353.90,346.41 L354.35,345.68 L354.80,345.99 L355.25,346.43 L355.70,346.46 L356.15,346.67 L356.60,346.36 L357.05,346.04 L357.50,346.27 L357.90,345.64 L357.95,345.39 L358.40,346.41 L358.85,346.29 L359.30,346.33 L359.75,345.50 L360.20,346.04 L360.65,346.02 L361.10,345.83 L361.55,345.29 L362.00,346.24 L362.45,346.94 L362.90,346.74 L363.35,346.31 L363.80,346.61 L364.25,346.84 L364.70,345.39 L365.15,346.52 L365.60,347.04 L366.05,347.25 L366.50,347.75 L366.95,347.52 L367.40,347.13 L367.85,347.14 L368.30,347.33 L368.75,346.79 L369.20,347.04 L369.65,347.63 L370.10,348.10 L370.55,347.19 L371.00,347.17 L371.45,347.40 L371.90,347.92 L372.35,347.46 L372.80,347.99 L373.25,347.00 L373.70,347.26 L374.15,347.40 L374.60,347.93 L375.05,347.99 L375.50,346.86 L375.95,347.10 L376.40,347.72 L376.85,347.30 L377.30,347.02 L377.75,348.20 L378.20,348.13 L378.65,348.08 L379.10,347.74 L379.55,348.37 L380.00,347.97 L380.45,348.45 L380.90,347.61 L381.35,347.61 L381.80,348.11 L382.25,347.85 L382.70,348.47 L383.15,348.32 L383.60,347.82 L384.05,348.24 L384.50,348.21 L384.95,348.73 L385.40,348.11 L385.85,348.25 L386.30,349.14 L386.75,349.76 L386.90,349.60 L387.20,348.69 L387.65,348.76 L388.10,349.33 L388.55,348.59 L389.00,348.18 L389.45,348.71 L389.90,348.89 L390.35,348.28 L390.80,347.86 L391.25,348.07 L391.70,349.03 L392.15,348.55 L392.60,348.81 L393.05,349.07 L393.50,349.26 L393.95,348.91 L394.40,349.20 L394.85,348.65 L395.30,348.81 L395.75,348.68 L396.20,349.64 L396.65,349.20 L397.10,348.84 L397.55,349.03 L398.00,349.20 L398.45,349.54 L398.90,348.56 L399.35,348.76 L399.80,349.31 L400.25,350.69 L400.70,350.07 L401.15,349.54 L401.60,349.99 L402.05,350.57 L402.50,349.58 L402.95,349.50 L403.40,350.24 L403.85,350.03 L404.30,350.03 L404.75,349.65 L405.20,350.77 L405.65,350.77 L406.10,350.25 L406.55,350.10 L407.00,349.00 L407.45,350.10 L407.90,349.92 L408.35,350.22 L408.80,350.35 L409.25,349.82 L409.70,349.26 L410.15,350.14 L410.60,349.78 L411.05,349.93 L411.50,349.87 L411.95,349.89 L412.40,349.20 L412.85,350.75 L413.30,350.58 L413.75,351.02 L414.20,351.40 L414.65,350.43 L415.10,349.53 L415.55,349.87 L415.90,349.84 L416.00,350.20 L416.45,350.43 L416.90,349.64 L417.35,350.56 L417.80,349.95 L418.25,350.72 L418.70,350.66 L419.15,350.59 L419.60,350.70 L420.05,350.52 L420.50,350.44 L420.95,350.06 L421.40,350.94 L421.85,351.98 L422.30,352.16 L422.75,351.86 L423.20,351.48 L423.65,350.95 L424.10,351.83 L424.55,351.28 L425.00,351.21 L425.45,351.16 L425.90,351.34 L426.35,351.17 L426.80,351.29 L427.25,350.91 L427.70,351.39 L428.15,352.61 L428.60,351.67 L429.05,351.53 L429.50,351.93 L429.95,351.99 L430.40,351.22 L430.85,351.64 L431.30,352.23 L431.75,352.01 L432.20,352.02 L432.65,352.60 L433.10,351.69 L433.55,351.91 L434.00,351.82 L434.45,352.56 L434.90,351.13 L435.35,351.58 L435.80,351.81 L436.25,352.41 L436.70,352.52 L437.15,352.74 L437.60,351.52 L438.05,352.41 L438.50,352.03 L438.95,351.88 L439.40,352.35 L439.85,351.66 L440.00,351.13 L440.30,351.81 L440.75,351.43 L441.20,351.84 L441.65,352.38 L442.10,352.49 L442.55,353.00 L443.00,352.14 L443.45,351.45 L443.90,351.74 L444.35,351.69 L444.80,351.64 L445.25,352.36 L445.70,351.87 L446.15,351.33 L446.60,352.49 L447.05,352.29 L447.50,352.46 L447.95,352.40 L448.40,352.61 L448.85,352.43 L449.30,352.92 L449.75,352.61 L450.20,352.55 L450.65,352.45 L451.10,351.64 L451.55,352.14 L452.00,352.21 L452.45,352.33 L452.90,351.79 L453.35,353.05 L453.80,352.42 L454.25,351.67 L454.70,351.44 L455.15,352.11 L455.60,352.25 L456.05,352.01 L456.50,352.32 L456.95,352.09 L457.40,352.55 L457.85,352.05 L458.30,352.37 L458.75,352.99 L459.20,353.61 L459.65,352.02 L460.10,352.05 L460.55,352.00 L461.00,352.64 L461.45,351.85 L461.90,352.08 L462.35,352.29 L462.80,351.86 L463.25,351.84 L463.70,351.98 L464.15,351.27 L464.60,351.55 L465.05,352.12 L465.50,352.43 L465.95,352.21 L466.40,351.51 L466.85,352.12 L467.30,352.79 L467.75,352.71 L468.20,352.34 L468.65,352.01 L469.00,352.62 L469.10,352.09 L469.55,351.73 L470.00,351.96 L470.45,352.92 L470.90,352.43 L471.35,352.61 L471.80,351.84 L472.25,352.21 L472.70,351.45 L473.15,351.60 L473.60,352.66 L474.05,351.80 L474.50,351.00 L474.95,351.05 L475.40,351.24 L475.85,351.52 L476.30,350.65 L476.70,350.02 L476.75,350.66 L477.20,350.93 L477.65,351.13 L478.10,351.77 L478.55,351.53 L479.00,351.75 L479.45,351.15 L479.90,352.24 L480.35,353.06 L480.80,352.65 L481.25,352.49 L481.50,352.60 L481.70,353.28 L482.15,352.28 L482.60,352.71 L483.05,353.21 L483.50,353.48 L483.95,353.14 L484.40,353.57 L484.85,353.53 L485.30,353.84 L485.75,353.86 L486.20,353.61 L486.65,354.32 L487.10,354.89 L487.55,354.29 L488.00,354.76 L488.45,355.32 L488.90,354.80 L489.35,355.41 L489.80,355.21 L490.20,356.42 L490.25,357.12 L490.70,357.10 L491.15,356.26 L491.60,356.75 L492.05,356.71 L492.50,356.96 L492.95,357.68 L493.40,356.74 L493.85,357.85 L494.30,357.76 L494.75,358.52 L495.20,358.17 L495.65,357.94 L496.10,358.56 L496.55,358.97 L497.00,358.87 L497.45,359.15 L497.90,358.75 L497.90,358.10 L498.35,359.60 L498.80,359.82 L499.25,359.71 L499.70,359.87 L500.15,360.41 L500.60,359.89 L501.05,359.86 L501.50,360.30 L501.95,360.94 L502.40,360.02 L502.85,361.04 L503.20,360.30 L503.30,360.11 L503.75,361.10 L504.20,360.45 L504.65,359.75 L505.10,360.08 L505.55,360.62 L506.00,360.56 L506.45,359.67 L506.90,359.80 L507.35,359.72 L507.80,358.96 L508.25,359.15 L508.70,358.83 L509.15,358.41 L509.50,358.34 L509.60,358.58 L510.05,358.44 L510.50,358.05 L510.95,358.06 L511.40,358.65 L511.85,358.25 L512.30,358.44 L512.75,358.49 L513.20,358.21 L513.65,358.69 L514.10,357.30 L514.55,357.72 L515.00,357.29 L515.30,358.17 L515.45,357.97 L515.90,356.12 L516.35,356.30 L516.80,356.96 L517.25,356.92 L517.70,356.66 L518.15,356.11 L518.60,356.14 L519.05,356.05 L519.50,355.63 L519.95,355.80 L520.40,354.37 L520.85,355.41 L521.10,354.90 L521.30,355.69 L521.75,355.20 L522.20,354.91 L522.65,355.42 L523.10,354.91 L523.55,354.82 L524.00,354.64 L524.45,355.42 L524.50,355.80 L524.90,356.09 L525.35,355.78 L525.80,356.43 L526.25,356.25 L526.70,356.45 L527.15,357.09 L527.60,357.57 L528.05,357.20 L528.50,357.42 L528.80,357.61 L528.95,357.74 L529.40,357.60 L529.85,358.60 L530.30,358.30 L530.75,358.75 L531.20,358.44 L531.65,359.08 L532.10,359.23 L532.55,359.04 L532.70,360.07 L533.00,359.49 L533.45,359.93 L533.90,359.38 L534.35,358.39 L534.80,358.27 L535.25,358.43 L535.70,358.09 L536.15,357.84 L536.50,357.46 L536.60,356.77 L537.05,357.16 L537.50,356.29 L537.95,357.18 L538.40,356.64 L538.85,356.45 L539.30,356.57 L539.75,356.59 L540.20,355.66 L540.65,355.34 L541.10,355.50 L541.40,355.10 L541.55,355.69 L542.00,356.77 L542.45,355.71 L542.90,356.20 L543.35,355.39 L543.80,355.99 L544.25,355.77 L544.70,355.86 L545.15,356.21 L545.60,356.69 L546.05,355.97 L546.50,355.74 L546.95,355.28 L547.40,355.88 L547.85,355.61 L548.30,356.00 L548.75,355.72 L549.20,356.28 L549.65,354.68 L550.10,355.31 L550.55,355.88 L551.00,355.32 L551.45,355.04 L551.90,355.18 L552.35,354.75 L552.80,355.53 L553.25,356.63 L553.70,356.00 L554.15,354.84 L554.60,354.83 L555.05,355.14 L555.50,355.72 L555.80,354.92 L555.95,354.97 L556.40,355.72 L556.85,355.71 L557.30,355.06 L557.75,354.59 L558.20,354.37 L558.65,354.65 L559.10,354.13 L559.55,355.37 L560.00,354.94 L560.45,355.46 L560.90,356.14 L561.35,355.73 L561.80,354.68 L562.25,355.52 L562.70,355.65 L563.15,354.73 L563.60,354.55 L564.05,354.84 L564.50,354.35 L564.95,355.49 L565.40,353.88 L565.85,354.31 L566.30,354.78 L566.75,354.86 L567.20,355.05 L567.65,355.09 L568.10,354.93 L568.55,355.34 L569.00,353.97 L569.45,354.75 L569.90,354.57 L570.35,354.93 L570.80,354.95 L571.25,354.42 L571.70,354.56 L572.15,355.23 L572.60,355.03 L573.05,354.67 L573.50,355.92 L573.95,355.98 L574.40,354.29 L574.85,355.04 L575.30,356.09 L575.75,355.36 L576.20,354.96 L576.65,354.69 L577.10,354.52 L577.55,354.64 L578.00,354.57 L578.45,355.10 L578.90,354.63 L579.35,354.49 L579.80,354.19 L580.00,354.65 L580.25,354.36 L580.70,354.72 L581.15,355.31 L581.60,355.07 L582.05,355.09 L582.50,355.01 L582.95,354.85 L583.40,354.74 L583.85,354.71 L584.30,355.10 L584.75,354.43 L585.20,355.41 L585.65,354.88 L586.10,354.45 L586.55,354.52 L587.00,354.50 L587.45,354.84 L587.90,354.59 L588.35,355.32 L588.80,354.42 L589.25,353.69 L589.70,354.26 L590.15,353.87 L590.60,354.80 L591.05,355.43 L591.50,355.18 L591.95,354.24 L592.40,354.55 L592.85,355.72 L593.30,355.16 L593.75,354.98 L594.20,355.55 L594.65,356.22 L595.00,355.68 L595.10,355.07 L595.55,355.12 L596.00,355.18 L596.45,354.58 L596.90,354.36 L597.35,354.80 L597.80,354.44 L598.25,354.82 L598.70,355.08 L599.15,355.97 L599.60,354.62 L600.05,354.77 L600.50,354.83 L600.95,355.15 L601.40,355.38 L601.85,354.66 L602.30,354.36 L602.75,353.98 L603.20,354.36 L603.65,355.08 L604.10,354.86 L604.55,354.36 L605.00,354.62 L605.45,354.88 L605.90,355.06 L606.35,354.58 L606.80,354.58 L607.25,353.89 L607.70,354.27 L608.15,355.41 L608.60,353.86 L609.05,354.55 L609.50,354.88 L609.95,354.60 L610.40,354.40 L610.85,354.73 L611.30,354.79 L611.75,354.64 L612.20,353.88 L612.65,354.55 L613.10,354.33 L613.55,354.47 L614.00,354.88 L614.45,355.14 L614.90,355.19 L615.35,354.62 L615.80,355.23 L616.25,355.42 L616.70,355.43 L617.15,355.45 L617.60,354.72 L618.05,354.67 L618.50,355.01 L618.95,354.10 L619.40,354.68 L619.85,354.42 L620.30,354.36 L620.75,353.75 L621.20,354.13 L621.65,354.64 L622.10,355.13 L622.55,355.16 L623.00,354.64 L623.45,354.47 L623.90,354.22 L624.35,354.73 L624.80,354.54 L625.25,354.97 L625.70,355.45 L626.15,354.57 L626.60,353.79 L627.05,353.96 L627.50,353.72 L627.95,353.95 L628.40,355.09 L628.85,354.61 L629.30,353.83 L629.50,354.80 L629.75,355.12 L630.20,354.35 L630.65,354.11 L631.10,354.27 L631.55,354.60 L632.00,354.83 L632.45,355.09 L632.90,355.12 L633.35,355.10 L633.80,355.13 L634.25,354.65 L634.70,353.62 L635.15,354.16 L635.60,354.40 L636.05,354.14 L636.50,354.62 L636.95,354.03 L637.40,353.79 L637.85,354.82 L638.30,354.54 L638.75,354.29 L639.20,354.58 L639.65,354.61 L640.10,354.07 L640.55,352.76 L641.00,353.43 L641.45,353.57 L641.90,353.37 L642.35,353.92 L642.80,354.33 L643.25,353.51 L643.70,353.25 L644.15,354.54 L644.60,353.45 L645.05,352.97 L645.50,353.60 L645.95,353.67 L646.40,353.18 L646.85,353.71 L647.30,353.11 L647.75,352.84 L648.20,353.34 L648.65,353.55 L649.10,352.92 L649.55,353.23 L650.00,353.20 L650.45,354.32 L650.90,352.87 L651.35,353.52 L651.80,352.90 L652.25,352.77 L652.70,353.13 L653.15,353.23 L653.60,353.31 L654.05,352.77 L654.50,352.21 L654.95,352.19 L655.40,352.64 L655.85,352.73 L656.30,353.01 L656.75,352.56 L657.20,352.78 L657.65,352.89 L658.10,352.11 L658.55,351.19 L659.00,351.16 L659.00,351.23 L659.45,352.45 L659.90,351.50 L660.35,352.21 L660.80,351.98 L661.25,352.32 L661.70,351.84 L662.15,351.12 L662.60,350.87 L663.05,350.85 L663.50,350.70 L663.95,350.23 L664.40,350.35 L664.85,350.80 L665.30,349.25 L665.75,349.75 L666.20,349.20 L666.65,349.52 L667.10,349.68 L667.55,349.18 L668.00,349.22 L668.45,348.15 L668.90,349.07 L669.35,348.35 L669.80,348.69 L670.25,348.28 L670.70,346.94 L671.15,347.64 L671.60,348.23 L672.05,348.81 L672.50,348.25 L672.90,348.06 L672.95,347.42 L673.40,348.74 L673.85,349.07 L674.30,348.36 L674.75,348.22 L675.20,347.89 L675.65,349.35 L676.10,350.52 L676.55,349.99 L677.00,350.39 L677.45,350.30 L677.90,349.98 L678.35,351.17 L678.80,350.46 L679.25,351.14 L679.70,351.77 L680.15,352.34 L680.60,352.41 L681.05,352.53 L681.50,352.14 L681.95,352.06 L682.40,352.76 L682.70,352.48 L682.85,352.18 L683.30,352.27 L683.75,352.63 L684.20,352.11 L684.65,352.31 L685.10,352.37 L685.55,353.29 L686.00,353.66 L686.45,354.29 L686.90,352.80 L687.35,353.13 L687.80,353.92 L688.25,353.52 L688.70,353.56 L689.15,354.46 L689.60,353.59 L690.05,353.11 L690.50,353.12 L690.95,353.94 L691.40,353.97 L691.85,353.22 L692.30,353.43 L692.75,354.22 L693.20,354.30 L693.65,353.82 L694.10,354.39 L694.55,354.33 L695.00,353.31 L695.45,353.95 L695.90,354.36 L696.35,353.86 L696.80,353.19 L697.25,354.08 L697.70,354.76 L698.15,355.02 L698.60,353.57 L699.05,355.45 L699.50,354.09 L699.95,354.91 L700.40,355.17 L700.85,355.04 L701.30,354.57 L701.75,354.02 L702.20,354.73 L702.65,354.11 L703.10,353.50 L703.55,355.85 L704.00,355.24 L704.45,355.50 L704.90,354.42 L705.35,355.42 L705.80,355.64 L706.25,355.56 L706.70,354.74 L707.15,354.16 L707.60,354.48 L708.05,353.62 L708.40,353.86 L708.50,354.69 L708.95,354.34 L709.40,354.69 L709.85,354.91 L710.30,355.87 L710.75,355.63 L711.20,355.04 L711.65,355.46 L712.10,354.62 L712.55,354.81 L713.00,355.32 L713.45,354.44 L713.90,354.72 L714.35,354.39 L714.80,355.12 L715.25,355.81 L715.70,354.83 L716.15,355.11 L716.60,354.63 L717.05,354.45 L717.50,354.57 L717.95,355.93 L718.40,356.43 L718.85,355.52 L719.30,354.94 L719.75,355.50 L720.20,355.17 L720.65,355.64 L721.10,355.48 L721.55,355.48 L722.00,355.58 L722.45,355.05 L722.90,355.00 L723.35,354.47 L723.80,354.96 L724.25,354.66 L724.70,355.18 L725.15,354.94 L725.60,355.44 L726.05,355.57 L726.50,354.74 L726.95,354.93 L727.40,355.01 L727.85,355.89 L728.30,356.41 L728.75,356.00 L729.20,355.49 L729.65,356.13 L730.10,355.00 L730.55,356.15 L731.00,355.18 L731.45,354.37 L731.90,356.79 L732.35,356.46 L732.80,355.22 L733.25,355.63 L733.70,355.55 L734.15,355.59 L734.60,354.91 L735.05,355.27 L735.50,355.87 L735.95,355.89 L736.40,356.28 L736.85,355.95 L737.30,356.79 L737.75,355.52 L738.20,355.69 L738.65,354.75 L739.10,355.10 L739.55,356.25 L740.00,355.40 L740.45,355.95 L740.90,355.70 L741.35,355.24 L741.80,355.51 L742.25,355.47 L742.70,355.56 L743.15,356.15 L743.60,356.11 L744.05,355.49 L744.50,355.34 L744.95,355.87 L745.40,355.82 L745.85,356.44 L746.30,357.18 L746.75,356.36 L747.20,355.82 L747.65,355.66 L747.90,355.32 L748.10,355.25 L748.55,355.24 L749.00,355.52 L749.45,355.62 L749.90,356.11 L750.35,355.64 L750.80,355.61 L751.25,355.30 L751.70,356.55 L752.15,356.25 L752.60,356.74 L753.05,356.38 L753.50,356.55 L753.95,355.81 L754.40,356.29 L754.85,357.07 L755.30,355.45 L755.75,356.39 L756.20,356.71 L756.65,356.15 L757.10,356.27 L757.55,356.42 L758.00,355.58 L758.45,355.91 L758.90,355.36 L759.35,355.38 L759.80,355.45 L760.25,355.70 L760.70,355.89 L761.15,355.94 L761.60,355.25 L762.05,356.76 L762.50,356.53 L762.95,356.21 L763.40,355.66 L763.85,355.77 L764.30,356.09 L764.75,355.93 L765.20,355.04 L765.65,356.24 L766.10,357.17 L766.55,355.13 L767.00,356.20 L767.45,356.04 L767.90,355.85 L768.35,356.40 L768.80,355.31 L769.25,355.90 L769.70,356.52 L770.15,355.77 L770.60,355.59 L771.05,355.80 L771.50,355.68 L771.95,356.48 L772.40,355.50 L772.85,356.10 L773.30,355.28 L773.75,356.05 L774.20,355.63 L774.65,354.52 L775.10,355.57 L775.55,355.25 L776.00,355.61 L776.45,356.46 L776.90,355.28 L777.35,355.30 L777.80,356.45 L778.25,356.04 L778.70,356.59 L779.15,356.00 L779.60,355.38 L780.05,355.79 L780.50,356.46 L780.95,356.34 L781.40,355.86 L781.85,355.82 L782.30,355.71 L782.75,355.63 L783.20,356.72 L783.65,355.85 L784.10,355.21 L784.55,355.54 L785.00,356.17 L785.45,356.16 L785.90,355.73 L786.35,355.46 L786.80,355.67 L787.25,354.88 L787.30,355.09 L787.70,356.09 L788.15,355.63 L788.60,356.03 L789.05,356.48 L789.50,356.20 L789.95,355.98 L790.40,356.92 L790.85,356.24 L791.30,355.69 L791.75,356.16 L792.20,355.98 L792.65,355.35 L793.10,355.74 L793.55,355.55 L794.00,354.68 L794.45,355.51 L794.90,355.55 L795.35,355.37 L795.80,354.77 L796.25,355.42 L796.70,355.69 L797.15,355.69 L797.60,355.11 L798.05,355.91 L798.50,355.01 L798.95,355.57 L799.40,356.41 L799.85,355.32 L800.30,355.39 L800.75,356.28 L801.20,355.48 L801.65,355.45 L802.10,355.86 L802.55,356.19 L803.00,354.16 L803.45,354.79 L803.90,354.76 L804.35,354.69 L804.80,354.83 L805.25,354.95 L805.70,355.68 L806.15,354.98 L806.60,355.66 L807.05,355.86 L807.50,355.08 L807.95,355.80 L808.40,356.97 L808.85,355.97 L809.30,355.10 L809.75,355.38 L810.00,354.85 L810.20,355.82 L810.65,356.27 L811.10,354.97 L811.55,355.45 L812.00,356.49 L812.45,355.31 L812.90,355.60 L813.35,354.63 L813.80,354.71 L814.25,355.30 L814.70,357.39 L815.15,355.43 L815.60,355.05 L816.05,355.05 L816.50,355.48 L816.95,356.18 L817.40,356.07 L817.85,357.42 L818.30,356.18 L818.75,356.90 L819.20,356.08 L819.65,356.01 L820.10,354.49 L820.55,355.38 L821.00,355.55 L821.45,355.23 L821.90,354.00 L822.35,356.09 L822.80,355.40 L823.25,355.26 L823.70,355.41 L824.15,355.51 L824.60,355.83 L825.05,354.70 L825.50,354.92 L825.95,355.82 L826.40,355.78 L826.85,355.39 L827.30,355.20 L827.75,355.08 L828.20,355.69 L828.65,356.40 L829.10,355.24 L829.55,356.68 L830.00,356.35 L830.45,355.57 L830.90,356.07 L831.35,354.75 L831.80,354.46 L832.25,354.79 L832.70,355.38 L833.15,355.49 L833.60,355.43 L834.05,355.63 L834.50,354.53 L834.95,355.81 L835.40,354.92 L835.85,355.25 L836.30,355.41 L836.75,354.97 L837.20,354.81 L837.65,355.10 L838.10,355.78 L838.55,356.23 L839.00,356.14 L839.45,355.20 L839.90,355.20 L840.35,355.24 L840.80,355.90 L841.25,354.70 L841.70,356.46 L842.15,355.59 L842.60,355.35 L843.05,356.13 L843.50,356.63 L843.95,356.30 L844.40,356.66 L844.85,356.19 L845.30,356.89 L845.75,356.90 L846.20,356.09 L846.65,356.98 L847.10,356.20 L847.55,355.93 L848.00,355.23 L848.45,355.72 L848.90,356.40 L849.35,355.08 L849.80,356.39 L850.25,356.35 L850.70,356.02 L851.15,354.18 L851.60,355.74 L852.05,356.46 L852.50,355.43 L852.95,355.74 L853.40,353.99 L853.85,356.28 L854.30,355.60 L854.75,356.55 L855.20,354.49 L855.65,356.45 L856.10,356.00 L856.55,356.70 L857.00,355.17 L857.45,355.61 L857.90,358.15 L858.35,355.42 L858.80,355.20 L859.25,355.56 L859.70,355.12 L860.15,357.47 L860.60,358.04 L861.05,355.32 L861.50,354.25 L861.95,357.34 L862.40,357.66 L862.85,357.39 L863.30,357.46 L863.75,355.25 L864.20,355.60 L864.65,354.24 L865.10,354.37 L865.55,357.02 L866.00,355.82 L866.45,358.87 L866.90,356.50 L867.35,355.49 L867.80,357.35 L868.25,358.65 L868.70,356.88 L869.15,354.74 L869.60,356.68 L870.05,357.94 L870.50,355.63 L870.95,355.25 L871.40,357.41 L871.85,356.35 L872.30,354.68 L872.75,355.37 L873.20,355.17 L873.65,356.48 L874.10,356.58 L874.55,357.87 L875.00,357.08 L875.45,354.28 L875.90,356.63 L876.35,357.55 L876.80,357.13 L877.25,357.57 L877.70,355.48 L878.15,354.99 L878.60,357.11 L878.90,354.57 L879.05,353.32 L879.50,357.08 L879.95,355.36 L880.40,355.45 L880.85,354.09 L881.30,354.04 L881.75,354.42 L882.20,355.60 L882.65,356.24 L883.10,353.43 L883.55,356.60 L884.00,354.64 L884.45,354.77 L884.90,356.85 L885.35,355.96 L885.80,354.56 L886.25,358.06 L886.70,355.45 L887.15,356.37 L887.60,356.65 L888.05,357.79 L888.50,355.99 L888.95,357.15 L889.40,355.61 L889.85,357.21 L890.30,355.40 L890.75,355.90 L891.20,358.21 L891.65,356.75 L892.10,356.59 L892.55,358.56 L893.00,356.69 L893.45,355.42 L893.90,356.61 L894.35,355.16 L894.80,357.23 L895.25,357.35 L895.70,355.62 L896.15,355.45 L896.60,356.18 L897.05,356.00 L897.50,355.25 L897.95,356.25 L898.40,354.26 L898.85,355.41 L899.30,355.63 L899.75,355.81 L900.20,356.15 L900.65,355.11 L901.10,356.37 L901.55,355.88 L902.00,355.35 L902.45,354.76 L902.90,355.00 L903.35,356.08 L903.80,355.31 L904.25,356.05 L904.70,356.87 L905.15,356.97 L905.60,357.16 L906.05,355.80 L906.50,355.27 L906.95,356.60 L907.40,356.35 L907.85,356.73 L908.30,356.14 L908.75,356.79 L909.20,356.63 L909.65,356.49 L910.10,356.32 L910.55,356.22 L911.00,356.10 L911.45,356.13 L911.90,356.47 L912.35,355.78 L912.80,356.87 L913.25,356.01 L913.70,356.43 L914.15,355.86 L914.60,355.85 L915.05,356.97 L915.50,355.72 L915.95,355.04 L916.40,355.32 L916.85,355.75 L917.30,356.99 L917.75,356.13 L918.20,356.26 L918.40,355.35 L918.65,355.96 L919.10,356.29 L919.55,356.74 L920.00,355.57 L920.45,356.06 L920.90,355.89 L921.35,355.24 L921.80,355.66 L922.25,355.45 L922.70,354.56 L923.15,355.92 L923.60,356.00 L924.05,355.44 L924.50,355.09 L924.95,356.37 L925.40,355.98 L925.85,356.29 L926.30,356.41 L926.75,355.54 L927.20,356.01 L927.65,355.57 L928.10,355.58 L928.55,355.58 L929.00,355.68 L929.45,356.16 L929.90,355.72 L930.35,355.50 L930.80,355.45 L931.25,355.66 L931.70,355.11 L932.15,355.25 L932.60,355.45 L933.05,355.24 L933.50,355.39 L933.95,355.33 L934.40,356.52 L934.85,356.28 L935.30,355.74 L935.75,355.59 L936.20,356.42 L936.65,355.71 L937.10,355.44 L937.55,355.58 L938.00,355.65 L938.45,356.04 L938.90,355.59 L939.35,356.25 L939.80,355.16 L940.25,355.57 L940.70,355.07 L941.15,356.07 L941.60,355.30 L942.05,355.35 L942.50,355.79 L942.95,355.85 L943.40,354.88 L943.85,355.02 L944.30,354.68 L944.75,355.27 L945.20,355.22 L945.65,355.08 L946.10,354.93 L946.55,355.01 L947.00,354.93 L947.45,355.51 L947.90,355.81 L948.35,354.47 L948.80,355.04 L949.25,355.05 L949.70,355.34 L950.00,354.81 L950.15,355.03 L950.60,354.77 L951.05,355.44 L951.50,355.25 L951.95,355.13 L952.40,355.31 L952.85,355.00 L953.30,354.51 L953.75,355.35 L954.20,355.30 L954.65,355.15 L955.10,355.63 L955.55,355.66 L956.00,354.69 L956.45,354.81 L956.90,355.82 L957.35,355.77 L957.80,354.80 L957.90,354.52 L958.25,354.73 L958.70,354.74 L959.15,354.35 L959.60,354.90 L960.05,354.41 L960.50,354.46 L960.95,355.27 L961.40,354.69 L961.85,354.87 L962.30,355.18 L962.75,355.19 L963.00,354.70 L963.20,354.73 L963.65,354.45 L964.10,355.36 L964.55,354.81 L965.00,353.90 L965.45,354.14 L965.80,354.33 L965.90,354.29 L966.35,354.45 L966.80,353.63 L967.25,352.05 L967.70,351.16 L967.70,350.76 L968.15,349.71 L968.60,347.80 L968.90,347.78 L969.05,346.36 L969.50,344.52 L969.95,344.51 L970.10,344.74 L970.40,344.06 L970.85,344.01 L971.30,344.21 L971.30,344.52 L971.75,344.37 L972.20,344.30 L972.65,345.18 L972.90,344.88 L973.10,345.01 L973.55,345.58 L974.00,347.06 L974.10,347.85 L974.45,348.18 L974.90,350.42 L975.20,351.59 L975.35,351.46 L975.80,352.31 L976.25,352.46 L976.70,353.81 L976.80,353.86 L977.15,353.55 L977.60,352.90 L978.05,353.39 L978.50,354.47 L978.95,354.90 L979.20,354.39 L979.40,354.62 L979.85,353.88 L980.30,353.95 L980.75,354.05 L981.20,354.10 L981.65,353.38 L982.10,354.32 L982.55,354.44 L983.00,353.34 L983.45,353.17 L983.90,353.81 L984.35,353.34 L984.80,352.70 L985.25,353.93 L985.50,353.79 L985.70,353.62 L986.15,354.60 L986.60,353.84 L987.05,353.41 L987.50,353.68 L987.95,353.26 L988.40,353.40 L988.85,353.88 L989.30,353.57 L989.75,353.70 L990.20,354.60 L990.65,354.39 L991.10,354.34 L991.55,354.25 L992.00,354.30 L992.45,354.68 L992.90,354.23 L993.35,354.84 L993.40,353.78 L993.80,353.90 L994.25,353.57 L994.70,354.07 L995.15,354.63 L995.60,355.06 L996.05,354.34 L996.50,354.60 L996.95,354.57 L997.40,354.48 L997.85,354.46 L998.30,355.00 L998.75,354.52 L999.20,355.34 L999.65,355.49 L1000.00,355.26 L1000.10,355.08 L1000.55,355.21 L1001.00,356.57 L1001.45,355.68 L1001.90,356.88 L1002.35,356.75 L1002.80,356.43 L1003.25,356.35 L1003.70,357.48 L1004.15,357.94 L1004.60,357.04 L1005.05,357.42 L1005.50,358.16 L1005.95,358.17 L1006.40,358.84 L1006.85,357.99 L1007.30,358.33 L1007.75,357.86 L1008.20,359.09 L1008.50,357.98 L1008.65,357.30 L1009.10,358.12 L1009.55,358.33 L1010.00,359.08 L1010.45,358.22 L1010.90,358.26 L1011.35,358.57 L1011.80,358.92 L1012.25,358.30 L1012.70,358.63 L1013.15,358.39 L1013.60,357.99 L1014.05,358.07 L1014.50,357.99 L1014.95,357.65 L1015.40,358.34 L1015.85,357.43 L1016.30,358.34 L1016.75,358.29 L1017.20,357.75 L1017.65,357.38 L1018.10,357.57 L1018.55,357.88 L1019.00,357.96 L1019.45,357.77 L1019.90,357.92 L1020.00,357.33 L1020.35,357.45 L1020.80,356.79 L1021.25,357.60 L1021.70,357.37 L1022.15,357.10 L1022.60,357.64 L1023.05,357.25 L1023.50,355.77 L1023.95,356.64 L1024.40,356.19 L1024.85,357.17 L1025.30,357.66 L1025.75,356.36 L1026.20,356.33 L1026.65,356.14 L1027.10,356.29 L1027.55,356.37 L1028.00,356.43 L1028.45,355.51 L1028.90,356.25 L1029.35,355.26 L1029.80,355.59 L1030.25,355.91 L1030.70,355.58 L1031.15,354.76 L1031.60,354.70 L1032.05,354.75 L1032.50,354.92 L1032.95,355.26 L1033.40,354.29 L1033.85,354.87 L1034.30,354.97 L1034.75,354.90 L1035.20,354.88 L1035.65,355.24 L1036.10,354.85 L1036.55,354.93 L1036.80,354.89 L1037.00,355.20 L1037.45,353.85 L1037.90,354.96 L1038.35,354.49 L1038.80,354.40 L1039.25,354.09 L1039.70,353.79 L1040.15,354.43 L1040.60,354.50 L1041.05,354.96 L1041.50,354.40 L1041.95,355.57 L1042.40,355.29 L1042.85,355.07 L1043.30,354.93 L1043.75,354.96 L1044.20,354.94 L1044.65,355.32 L1045.10,355.69 L1045.55,355.69 L1046.00,355.33 L1046.45,355.85 L1046.90,355.82 L1047.35,356.46 L1047.80,357.32 L1048.25,356.96 L1048.70,356.55 L1049.15,356.07 L1049.60,356.21 L1050.05,356.37 L1050.50,357.46 L1050.95,357.12 L1051.40,357.50 L1051.85,357.42 L1052.30,357.89 L1052.75,358.52 L1053.20,357.84 L1053.65,357.97 L1054.10,358.01 L1054.55,358.73 L1055.00,358.11 L1055.45,358.07 L1055.90,358.06 L1056.35,358.25 L1056.80,359.28 L1057.25,360.20 L1057.70,358.97 L1058.15,359.68 L1058.60,359.49 L1059.05,358.99 L1059.50,359.35 L1059.95,359.46 L1060.40,359.47 L1060.85,360.42 L1061.30,359.08 L1061.75,359.90 L1062.20,359.98 L1062.65,359.65 L1063.10,359.97 L1063.55,360.29 L1063.70,360.04 L1064.00,360.05 L1064.45,359.64 L1064.90,358.02 L1065.35,358.59 L1065.80,358.08 L1066.25,356.54 L1066.70,355.33 L1067.15,353.40 L1067.60,352.98 L1068.05,352.17 L1068.50,351.99 L1068.70,352.54 L1068.95,352.15 L1069.40,353.70 L1069.85,355.21 L1070.30,358.03 L1070.75,359.64 L1071.00,359.56 L1071.20,359.63 L1071.65,360.34 L1072.10,358.68 L1072.55,357.92 L1073.00,357.28 L1073.45,357.20 L1073.90,356.48 L1074.35,354.48 L1074.80,352.66 L1075.25,351.53 L1075.70,350.56 L1075.80,349.83 L1076.15,349.23 L1076.60,347.33 L1077.05,344.77 L1077.50,342.62 L1077.95,340.52 L1078.00,340.44 L1078.40,338.00 L1078.85,336.48 L1079.30,334.09 L1079.75,331.95 L1080.20,330.18 L1080.65,328.08 L1081.10,325.81 L1081.55,323.60 L1081.80,322.72 L1082.00,322.54 L1082.45,320.62 L1082.90,318.14 L1083.35,316.03 L1083.80,313.40 L1084.25,311.32 L1084.70,309.26 L1085.15,306.80 L1085.60,304.80 L1086.05,303.15 L1086.33,301.87 L1086.50,301.03 L1086.95,299.70 L1087.39,297.97 L1087.40,298.24 L1087.85,296.26 L1088.30,294.42 L1088.43,294.02 L1088.75,292.69 L1089.20,290.80 L1089.46,289.89 L1089.65,289.47 L1090.10,287.73 L1090.47,286.33 L1090.55,285.23 L1091.00,283.70 L1091.45,281.95 L1091.47,282.02 L1091.90,280.11 L1092.35,278.28 L1092.45,278.21 L1092.80,276.61 L1093.25,274.44 L1093.42,274.38 L1093.70,273.16 L1094.15,270.86 L1094.38,270.19 L1094.60,268.93 L1095.05,267.45 L1095.32,265.95 L1095.50,264.98 L1095.95,263.13 L1096.25,261.77 L1096.40,261.38 L1096.85,259.44 L1097.16,258.00 L1097.30,257.11 L1097.75,254.34 L1098.07,253.83 L1098.20,252.87 L1098.65,251.42 L1098.96,250.34 L1099.10,249.45 L1099.55,247.18 L1099.83,245.93 L1100.00,245.15 L1100.45,242.95 L1100.69,241.78 L1100.90,240.79 L1101.35,239.22 L1101.54,238.07 L1101.80,237.04 L1102.25,234.59 L1102.38,234.01 L1102.70,232.42 L1103.15,230.42 L1103.20,230.26 L1103.60,228.13 L1104.02,225.79 L1104.05,225.64 L1104.50,224.02 L1104.81,221.97 L1104.95,221.28 L1105.40,219.48 L1105.60,218.39 L1105.85,216.91 L1106.30,214.39 L1106.38,214.68 L1106.75,212.27 L1107.14,210.17 L1107.20,209.61 L1107.65,206.84 L1107.89,205.58 L1108.10,204.97 L1108.55,202.57 L1108.63,201.90 L1109.00,199.59 L1109.36,197.53 L1109.45,197.31 L1109.90,194.60 L1110.08,194.25 L1110.35,192.94 L1110.78,190.89 L1110.80,190.24 L1111.25,187.16 L1111.48,185.60 L1111.70,183.67 L1112.15,181.78 L1112.16,181.96 L1112.60,179.71 L1112.84,178.23 L1113.05,176.92 L1113.50,174.11 L1113.50,174.25 L1113.95,171.64 L1114.15,169.73 L1114.40,168.24 L1114.79,165.64 L1114.85,166.11 L1115.30,163.25 L1115.42,162.22 L1115.75,159.60 L1116.05,158.00 L1116.20,156.94 L1116.65,154.06 L1116.66,153.97 L1117.10,151.19 L1117.26,149.94 L1117.55,148.28 L1117.85,146.09 L1118.00,144.90 L1118.43,141.94 L1118.45,141.78 L1118.90,138.95 L1119.01,137.96 L1119.35,135.62 L1119.57,133.84 L1119.80,131.93 L1120.12,130.17 L1120.25,128.83 L1120.67,126.17 L1120.70,125.86 L1121.15,121.92 L1121.21,121.65 L1121.60,118.80 L1121.73,117.70 L1122.05,115.22 L1122.25,114.16 L1122.50,112.04 L1122.76,110.09 L1122.95,108.42 L1123.27,106.05 L1123.40,104.71 L1123.76,101.99 L1123.85,101.43 L1124.25,98.02 L1124.30,97.38 L1124.72,93.68 L1124.75,93.80 L1125.19,90.10 L1125.20,89.86 L1125.65,85.84 L1125.66,86.22 L1126.10,82.83 L1126.11,82.01 L1126.55,78.18 L1126.56,78.03 L1127.00,73.28 L1127.00,73.92 L1127.43,69.85 L1127.45,70.21 L1127.86,65.95 L1127.90,65.38 L1128.28,61.92 L1128.35,61.34 L1128.69,57.84 L1128.80,56.86 L1129.10,53.60 L1129.25,52.41 L1129.50,50.29 L1129.70,48.59 L1129.89,46.28 L1130.15,43.50 L1130.28,42.39 L1130.60,39.05 L1130.66,38.55 L1131.04,34.37 L1131.05,33.91 L1131.50,30.30 L1131.95,26.82 L1132.40,23.97 L1132.85,22.03 L1133.20,21.21 L1133.30,20.88 L1133.75,22.01 L1134.20,23.20 L1134.40,24.45 L1134.65,25.70 L1135.10,28.17 L1135.40,29.67 L1135.55,29.70 L1136.00,28.84 L1136.40,28.85 L1136.45,28.86 L1136.90,28.81 L1137.35,30.76 L1137.50,31.18 L1137.80,32.39 L1138.25,34.95 L1138.30,34.81 L1138.70,37.81 L1138.92,39.71 L1139.15,42.24 L1139.29,43.89 L1139.60,46.91 L1139.66,47.67 L1140.04,52.13 L1140.05,52.16 L1140.42,56.04 L1140.50,56.31 L1140.80,59.69 L1140.95,61.35 L1141.19,63.97 L1141.40,66.03 L1141.58,68.25 L1141.85,70.76 L1141.97,72.00 L1142.30,75.31 L1142.37,76.19 L1142.75,79.71 L1142.77,80.32 L1143.18,84.18 L1143.20,84.30 L1143.58,88.04 L1143.65,88.86 L1143.99,92.35 L1144.10,93.39 L1144.40,96.17 L1144.55,97.70 L1144.82,100.11 L1145.00,102.14 L1145.23,103.96 L1145.45,105.53 L1145.65,108.31 L1145.90,110.41 L1146.07,111.66 L1146.35,114.51 L1146.49,115.81 L1146.80,119.47 L1146.92,120.16 L1147.25,122.69 L1147.35,124.09 L1147.70,127.29 L1147.77,128.50 L1148.15,131.19 L1148.20,131.32 L1148.60,135.60 L1148.63,135.89 L1149.05,139.63 L1149.07,139.38 L1149.50,144.09 L1149.50,144.43 L1149.94,147.55 L1149.95,148.37 L1150.37,151.96 L1150.40,152.92 L1150.81,156.20 L1150.85,156.36 L1151.25,160.33 L1151.30,160.64 L1151.69,163.87 L1151.75,164.73 L1152.13,167.81 L1152.20,168.17 L1152.57,172.51 L1152.65,172.63 L1153.02,175.82 L1153.10,176.70 L1153.48,179.51 L1153.55,180.17 L1153.94,183.79 L1154.00,184.37 L1154.41,188.04 L1154.45,188.68 L1154.88,191.92 L1154.90,192.29 L1155.35,196.00 L1155.37,195.72 L1155.80,199.47 L1155.87,199.78 L1156.25,203.33 L1156.37,204.17 L1156.70,206.49 L1156.89,207.62 L1157.15,209.88 L1157.43,211.81 L1157.60,213.43 L1157.98,215.96 L1158.05,216.31 L1158.50,219.95 L1158.54,220.22 L1158.95,222.70 L1159.13,224.30 L1159.40,225.78 L1159.73,227.90 L1159.85,228.80 L1160.30,231.47 L1160.35,231.84 L1160.75,234.51 L1160.99,236.49 L1161.20,237.73 L1161.65,239.94 L1161.67,240.45 L1162.10,242.53 L1162.38,244.14 L1162.55,245.22 L1163.00,247.53 L1163.13,248.71 L1163.45,249.75 L1163.90,251.57 L1163.93,252.32 L1164.35,253.92 L1164.78,255.79 L1164.80,255.24 L1165.25,258.29 L1165.70,260.30 L1165.70,260.32 L1166.15,262.27 L1166.60,264.23 L1166.67,264.08 L1167.05,265.71 L1167.50,266.98 L1167.72,267.91 L1167.95,269.14 L1168.40,270.54 L1168.85,271.64 L1168.85,272.05 L1169.30,273.46 L1169.75,274.78 L1170.06,276.08 L1170.20,276.29 L1170.65,277.35 L1171.10,278.92 L1171.36,280.41 L1171.55,280.21 L1172.00,281.92 L1172.45,283.37 L1172.75,284.16 L1172.90,284.08 L1173.35,285.51 L1173.80,286.90 L1174.24,288.21 L1174.25,287.82 L1174.70,288.87 L1175.15,290.64 L1175.60,291.82 L1175.84,292.12 L1176.05,292.31 L1176.50,293.52 L1176.95,294.44 L1177.40,295.49 L1177.85,295.87 L1178.30,297.07 L1178.75,297.88 L1179.20,298.50 L1179.65,299.68 L1180.10,300.48 L1180.55,301.18 L1181.00,302.13 L1181.45,302.47 L1181.90,303.58 L1182.35,304.52 L1182.80,305.26 L1183.25,306.14 L1183.70,306.22 L1184.15,306.82 L1184.60,308.02 L1184.80,308.52 L1185.05,309.33 L1185.50,309.59 L1185.95,309.85 L1186.40,310.89 L1186.85,311.11 L1187.30,311.67 L1187.75,313.39 L1188.20,313.52 L1188.65,314.17 L1189.10,314.79 L1189.55,315.69 L1190.00,315.85 L1190.45,316.50 L1190.90,316.64 L1191.35,317.12 L1191.80,318.18 L1192.25,318.74 L1192.70,319.03 L1192.80,319.06 L1193.15,319.39 L1193.60,319.74 L1194.05,320.59 L1194.50,320.92 L1194.95,321.31 L1195.40,321.73 L1195.85,322.27 L1196.30,322.60 L1196.75,322.98 L1197.20,323.04 L1197.65,323.73 L1198.10,324.38 L1198.55,324.25 L1199.00,324.60 L1199.45,325.11 L1199.90,325.42 L1199.90,325.30 L1200.35,325.18 L1200.80,325.76 L1201.25,325.76 L1201.70,326.08 L1202.15,326.58 L1202.60,326.72 L1203.05,327.20 L1203.50,327.85 L1203.95,327.67 L1204.40,327.78 L1204.85,327.68 L1205.30,327.88 L1205.75,328.00 L1206.20,328.26 L1206.65,328.34 L1207.10,328.57 L1207.55,328.79 L1208.00,328.77 L1208.45,328.79 L1208.80,328.92 L1208.90,329.28 L1209.35,329.37 L1209.80,329.64 L1210.25,329.73 L1210.70,329.59 L1211.15,329.79 L1211.60,329.59 L1212.05,330.31 L1212.50,330.24 L1212.95,330.00 L1213.40,329.90 L1213.85,330.19 L1214.30,329.88 L1214.75,330.13 L1215.20,330.49 L1215.65,330.43 L1216.10,330.37 L1216.55,330.61 L1217.00,330.32 L1217.45,330.52 L1217.70,330.39 L1217.90,330.34 L1218.35,330.53 L1218.80,330.34 L1219.25,330.77 L1219.70,330.39 L1220.15,330.70 L1220.60,330.16 L1221.05,330.31 L1221.50,329.94 L1221.95,329.83 L1222.40,330.05 L1222.85,330.06 L1223.30,329.67 L1223.75,329.96 L1224.20,329.57 L1224.65,329.61 L1225.10,329.59 L1225.55,329.49 L1226.00,329.02 L1226.45,329.49 L1226.50,329.34 L1226.90,329.01 L1227.35,328.70 L1227.80,328.39 L1228.25,328.28 L1228.70,328.42 L1229.15,328.05 L1229.60,327.65 L1230.05,327.57 L1230.50,327.71 L1230.95,327.17 L1231.40,326.93 L1231.85,327.10 L1232.30,326.82 L1232.75,326.59 L1233.20,326.37 L1233.60,326.16 L1233.65,326.23 L1234.10,326.51 L1234.55,326.83 L1235.00,327.19 L1235.40,327.32 L1235.45,327.26 L1235.90,327.17 L1236.35,326.80 L1236.80,326.43 L1237.25,326.52 L1237.70,326.30 L1238.00,326.25 L1238.15,326.25 L1238.60,325.90 L1239.05,325.76 L1239.50,325.77 L1239.95,325.63 L1240.40,325.31 L1240.85,325.28 L1241.30,324.92 L1241.75,324.54 L1242.20,324.51 L1242.50,324.65 L1242.65,324.15 L1243.10,324.15 L1243.55,323.90 L1244.00,323.52 L1244.45,322.77 L1244.90,322.81 L1245.35,322.08 L1245.80,321.52 L1246.25,321.09 L1246.70,320.77 L1247.15,320.20 L1247.60,319.70 L1248.05,319.43 L1248.50,318.59 L1248.70,318.30 L1248.95,318.37 L1249.40,317.89 L1249.85,317.38 L1250.30,316.47 L1250.75,316.24 L1251.20,315.62 L1251.65,315.18 L1252.10,314.06 L1252.55,313.63 L1253.00,312.90 L1253.20,312.37 L1253.45,312.18 L1253.90,311.81 L1254.35,310.78 L1254.80,309.94 L1255.25,309.44 L1255.70,308.71 L1256.15,307.90 L1256.60,306.85 L1257.05,306.30 L1257.50,305.90 L1257.60,305.48 L1257.95,305.06 L1258.40,304.90 L1258.85,304.57 L1259.30,303.61 L1259.75,302.89 L1260.20,302.70 L1260.65,302.47 L1261.10,302.31 L1261.55,302.10 L1262.00,301.61 L1262.45,301.16 L1262.90,300.93 L1263.35,300.39 L1263.80,300.15 L1264.25,299.75 L1264.70,299.92 L1264.70,299.60 L1265.15,298.82 L1265.60,298.37 L1266.05,298.05 L1266.50,297.45 L1266.95,297.19 L1267.40,296.82 L1267.85,296.64 L1268.30,295.92 L1268.75,295.27 L1269.10,294.70 L1269.20,294.60 L1269.65,294.12 L1270.10,293.36 L1270.55,292.69 L1271.00,291.48 L1271.45,290.73 L1271.90,289.56 L1272.35,288.35 L1272.80,286.87 L1273.20,286.02 L1273.25,286.32 L1273.70,285.32 L1274.15,283.91 L1274.60,282.70 L1275.05,281.19 L1275.50,279.81 L1275.95,278.42 L1276.40,277.30 L1276.85,275.78 L1277.30,274.20 L1277.75,272.73 L1278.20,271.43 L1278.65,269.92 L1278.70,269.59 L1279.10,268.66 L1279.55,266.80 L1280.00,265.03 L1280.45,263.51 L1280.90,261.62 L1281.35,259.61 L1281.80,257.90 L1282.25,255.92 L1282.70,254.34 L1283.15,252.67 L1283.60,251.94 L1284.05,250.39 L1284.20,250.47 L1284.50,249.63 L1284.95,248.68 L1285.40,247.95 L1285.85,247.19 L1286.30,246.46 L1286.75,245.87 L1287.20,244.92 L1287.65,244.31 L1288.10,243.53 L1288.55,243.29 L1289.00,242.87 L1289.45,242.56 L1289.80,242.57 L1289.90,242.59 L1290.35,242.67 L1290.80,242.74 L1291.25,242.65 L1291.70,242.72 L1292.15,243.07 L1292.60,242.80 L1293.05,243.17 L1293.50,243.69 L1293.95,243.16 L1294.40,243.69 L1294.85,244.16 L1295.30,244.06 L1295.30,244.70 L1295.75,244.16 L1296.20,245.14 L1296.65,245.64 L1297.10,245.94 L1297.55,246.22 L1298.00,246.83 L1298.45,247.24 L1298.90,248.12 L1299.35,248.47 L1299.70,249.14 L1299.80,249.51 L1300.25,249.93 L1300.70,250.92 L1301.15,251.99 L1301.60,252.84 L1302.05,254.41 L1302.50,255.48 L1302.95,256.41 L1303.40,257.94 L1303.60,258.43 L1303.85,259.23 L1304.30,260.87 L1304.75,262.42 L1305.20,264.43 L1305.65,266.02 L1306.10,268.17 L1306.55,269.96 L1307.00,272.01 L1307.45,273.67 L1307.60,274.26 L1307.90,275.46 L1308.35,277.76 L1308.80,279.93 L1309.25,282.21 L1309.70,284.13 L1310.15,285.96 L1310.60,287.87 L1311.05,289.91 L1311.50,291.74 L1311.50,292.00 L1311.95,293.69 L1312.40,295.13 L1312.85,296.93 L1313.30,299.03 L1313.75,300.53 L1314.20,302.04 L1314.65,303.79 L1315.10,304.95 L1315.40,305.83 L1315.55,306.19 L1316.00,307.20 L1316.45,308.83 L1316.90,309.62 L1317.35,310.75 L1317.80,311.79 L1318.25,313.05 L1318.60,313.70 L1318.70,313.88 L1319.15,314.59 L1319.60,315.82 L1320.05,316.59 L1320.50,317.82 L1320.95,318.70 L1321.40,319.41 L1321.50,319.90 L1321.85,320.16 L1322.30,320.72 L1322.75,321.18 L1323.20,321.66 L1323.65,322.36 L1324.10,322.83 L1324.55,322.86 L1325.00,323.66 L1325.45,324.03 L1325.70,324.31 L1325.90,324.36 L1326.35,324.41 L1326.80,324.84 L1327.25,325.76 L1327.70,325.86 L1328.15,325.91 L1328.60,326.53 L1329.05,326.73 L1329.50,326.73 L1329.95,326.90 L1330.40,327.33 L1330.85,327.92 L1331.30,328.09 L1331.60,328.16 L1331.75,328.31 L1332.20,328.45 L1332.65,328.09 L1333.10,328.45 L1333.55,328.47 L1334.00,328.48 L1334.45,328.69 L1334.90,328.88 L1335.35,328.93 L1335.70,328.80 L1335.80,329.05 L1336.25,329.58 L1336.70,329.15 L1337.15,329.11 L1337.60,329.61 L1338.05,329.86 L1338.50,329.98 L1338.70,329.82 L1338.95,330.30 L1339.40,330.40 L1339.85,330.85 L1340.30,331.60 L1340.75,332.43 L1341.20,333.33 L1341.65,334.03 L1342.10,334.57 L1342.30,334.98 L1342.55,335.18 L1343.00,335.87 L1343.45,336.07 L1343.90,336.66 L1344.35,337.64 L1344.80,337.83 L1345.25,338.43 L1345.70,338.81 L1345.80,338.79 L1346.15,339.01 L1346.60,339.48 L1347.05,339.04 L1347.50,339.77 L1347.95,340.15 L1348.20,339.76 L1348.40,339.67 L1348.85,339.43 L1349.30,338.70 L1349.75,336.81 L1350.00,335.98 L1350.20,333.40 L1350.65,321.80 L1350.70,320.56 L1351.10,311.16 L1351.55,300.08 L1352.00,289.98 L1352.00,289.86 L1352.45,282.45 L1352.90,276.46 L1353.35,267.58 L1353.60,259.81 L1353.80,244.74 L1354.10,210.98 L1354.25,196.70 L1354.60,170.16 L1354.70,165.83 L1355.00,158.08 L1355.15,156.19 L1355.60,153.35 L1355.60,153.33 L1356.05,156.15 L1356.20,158.04 L1356.50,163.82 L1356.70,169.62 L1356.95,194.44 L1357.10,211.06 L1357.40,235.79 L1357.80,259.76 L1357.85,262.08 L1358.30,274.48 L1358.75,284.04 L1359.20,291.09 L1359.50,295.64 L1359.65,298.10 L1360.10,305.11 L1360.55,311.46 L1361.00,316.37 L1361.30,318.74 L1361.45,319.78 L1361.90,322.90 L1362.35,325.29 L1362.80,326.74 L1363.25,327.55 L1363.30,327.73 L1363.70,326.99 L1364.15,325.71 L1364.60,324.90 L1364.60,325.04 L1365.05,326.47 L1365.50,329.31 L1365.90,331.58 L1365.95,332.15 L1366.40,334.47 L1366.85,337.44 L1367.20,338.18 L1367.30,338.16 L1367.75,338.55 L1368.20,338.72 L1368.65,339.69 L1369.10,340.30 L1369.55,340.95 L1370.00,340.77 L1370.45,341.54 L1370.90,341.44 L1371.35,341.67 L1371.80,341.25 L1372.25,341.75 L1372.30,341.75 L1372.70,341.97 L1373.15,341.90 L1373.60,341.74 L1374.05,342.15 L1374.50,342.19 L1374.95,342.21 L1375.40,342.32 L1375.85,342.35 L1376.30,342.14 L1376.75,341.88 L1377.20,341.93 L1377.65,342.46 L1378.10,342.41 L1378.55,342.28 L1379.00,342.19 L1379.45,342.28 L1379.90,342.29 L1380.35,342.21 L1380.80,342.21 L1381.25,342.70 L1381.30,342.38 L1381.70,342.05 L1382.15,341.57 L1382.60,341.20 L1383.05,340.90 L1383.50,340.30 L1383.95,339.54 L1384.00,339.50 L1384.40,338.84 L1384.85,337.95 L1385.30,337.67 L1385.75,337.19 L1385.90,337.47 L1386.20,336.97 L1386.65,337.32 L1387.10,337.91 L1387.55,338.11 L1388.00,338.20 L1388.00,338.29 L1388.45,338.73 L1388.90,338.99 L1389.35,339.12 L1389.60,339.41 L1389.80,339.50 L1390.25,339.52 L1390.70,339.60 L1391.15,339.71 L1391.60,340.02 L1392.05,340.23 L1392.50,340.23 L1392.95,340.40 L1393.40,340.37 L1393.85,340.28 L1394.30,340.50 L1394.75,340.96 L1395.20,341.08 L1395.65,341.37 L1396.10,341.23 L1396.55,341.47 L1396.70,341.60 L1397.00,341.57 L1397.45,341.37 L1397.90,341.51 L1398.35,341.65 L1398.80,341.57 L1399.25,341.92 L1399.70,342.11 L1400.15,341.98 L1400.60,342.45 L1401.05,342.15 L1401.50,342.19 L1401.95,342.25 L1402.40,342.27 L1402.85,342.54 L1403.30,342.60 L1403.75,342.95 L1404.20,342.86 L1404.65,342.87 L1405.10,342.77 L1405.55,342.62 L1406.00,342.89 L1406.45,342.89 L1406.90,343.26 L1406.90,343.16 L1407.35,343.51 L1407.80,343.44 L1408.25,343.50 L1408.70,343.46 L1409.15,343.53 L1409.60,343.70 L1410.05,343.80 L1410.50,343.60 L1410.95,343.92 L1411.40,344.36 L1411.85,343.96 L1412.30,343.92 L1412.75,343.87 L1413.20,343.84 L1413.65,344.35 L1414.10,344.25 L1414.55,344.34 L1415.00,344.69 L1415.45,344.79 L1415.90,344.21 L1416.20,344.50 L1416.35,344.45 L1416.80,344.38 L1417.25,344.33 L1417.70,344.19 L1418.15,344.35 L1418.60,344.04 L1419.05,343.79 L1419.20,343.87 L1419.50,343.27 L1419.95,340.94 L1420.30,338.12 L1420.40,336.85 L1420.85,321.90 L1420.90,319.98 L1421.30,303.04 L1421.40,299.89 L1421.75,291.99 L1421.80,292.00 L1422.20,300.00 L1422.20,299.61 L1422.65,318.38 L1422.70,320.13 L1423.10,330.39 L1423.30,332.85 L1423.55,334.49 L1424.00,335.61 L1424.30,335.92 L1424.45,336.10 L1424.90,336.66 L1425.35,337.11 L1425.80,337.32 L1426.20,337.24 L1426.25,336.98 L1426.70,337.19 L1427.15,337.31 L1427.60,337.53 L1428.05,337.40 L1428.50,337.84 L1428.95,338.07 L1429.40,338.04 L1429.85,338.19 L1430.30,338.01 L1430.75,337.98 L1431.20,338.25 L1431.65,338.69 L1432.10,338.76 L1432.55,338.60 L1433.00,338.93 L1433.45,338.81 L1433.90,339.20 L1434.35,339.13 L1434.80,339.06 L1435.10,339.32 L1435.25,339.09 L1435.70,339.15 L1436.15,339.25 L1436.60,339.73 L1437.05,339.90 L1437.50,340.08 L1437.95,340.27 L1438.40,340.77 L1438.85,340.65 L1439.30,340.79 L1439.75,341.35 L1440.20,341.58 L1440.65,341.48 L1441.10,341.21 L1441.55,341.52 L1442.00,341.85 L1442.45,341.84 L1442.80,342.07 L1442.90,341.59 L1443.35,341.88 L1443.80,341.71 L1444.25,342.01 L1444.70,341.78 L1445.15,341.88 L1445.60,341.52 L1446.05,341.28 L1446.50,341.25 L1446.95,341.25 L1447.40,341.12 L1447.40,341.51"/></defs>
<g fill="none" stroke-linejoin="round" stroke-linecap="round">
<use href="#pb" stroke="#ffffff" stroke-opacity="0.45" stroke-width="4.6"/>
<use href="#pr" stroke="#ffffff" stroke-opacity="0.45" stroke-width="4.6"/>
<use href="#pb" stroke="#000000" stroke-width="2.3"/>
<use href="#pr" stroke="#ff0000" stroke-width="2.3"/>
</g>
<rect x="96.30" y="2.40" width="1351.60" height="447.90" fill="none" stroke="#000" stroke-width="1.5"/>
<line x1="90.50" y1="31.20" x2="96.30" y2="31.20" stroke="#000" stroke-width="1.4"/>
<text x="84.2" y="39.00" class="tk" text-anchor="end" textLength="41.8" lengthAdjust="spacingAndGlyphs">0.05</text>
<line x1="90.50" y1="95.50" x2="96.30" y2="95.50" stroke="#000" stroke-width="1.4"/>
<text x="84.2" y="103.30" class="tk" text-anchor="end" textLength="41.8" lengthAdjust="spacingAndGlyphs">0.04</text>
<line x1="90.50" y1="159.80" x2="96.30" y2="159.80" stroke="#000" stroke-width="1.4"/>
<text x="84.2" y="167.60" class="tk" text-anchor="end" textLength="41.8" lengthAdjust="spacingAndGlyphs">0.03</text>
<line x1="90.50" y1="224.10" x2="96.30" y2="224.10" stroke="#000" stroke-width="1.4"/>
<text x="84.2" y="231.90" class="tk" text-anchor="end" textLength="41.8" lengthAdjust="spacingAndGlyphs">0.02</text>
<line x1="90.50" y1="288.40" x2="96.30" y2="288.40" stroke="#000" stroke-width="1.4"/>
<text x="84.2" y="296.20" class="tk" text-anchor="end" textLength="41.8" lengthAdjust="spacingAndGlyphs">0.01</text>
<line x1="90.50" y1="352.70" x2="96.30" y2="352.70" stroke="#000" stroke-width="1.4"/>
<text x="84.2" y="360.50" class="tk" text-anchor="end" textLength="41.8" lengthAdjust="spacingAndGlyphs">0.00</text>
<line x1="90.50" y1="417.00" x2="96.30" y2="417.00" stroke="#000" stroke-width="1.4"/>
<text x="84.2" y="424.80" class="tk" text-anchor="end" textLength="57.2" lengthAdjust="spacingAndGlyphs">−0.01</text>
<line x1="262.40" y1="450.30" x2="262.40" y2="456.10" stroke="#000" stroke-width="1.4"/>
<text x="262.40" y="476.7" class="tk" text-anchor="middle" textLength="49.3" lengthAdjust="spacingAndGlyphs">3500</text>
<line x1="470.40" y1="450.30" x2="470.40" y2="456.10" stroke="#000" stroke-width="1.4"/>
<text x="470.40" y="476.7" class="tk" text-anchor="middle" textLength="49.3" lengthAdjust="spacingAndGlyphs">3000</text>
<line x1="678.40" y1="450.30" x2="678.40" y2="456.10" stroke="#000" stroke-width="1.4"/>
<text x="678.40" y="476.7" class="tk" text-anchor="middle" textLength="49.3" lengthAdjust="spacingAndGlyphs">2500</text>
<line x1="886.40" y1="450.30" x2="886.40" y2="456.10" stroke="#000" stroke-width="1.4"/>
<text x="886.40" y="476.7" class="tk" text-anchor="middle" textLength="49.3" lengthAdjust="spacingAndGlyphs">2000</text>
<line x1="1094.40" y1="450.30" x2="1094.40" y2="456.10" stroke="#000" stroke-width="1.4"/>
<text x="1094.40" y="476.7" class="tk" text-anchor="middle" textLength="49.3" lengthAdjust="spacingAndGlyphs">1500</text>
<line x1="1302.40" y1="450.30" x2="1302.40" y2="456.10" stroke="#000" stroke-width="1.4"/>
<text x="1302.40" y="476.7" class="tk" text-anchor="middle" textLength="49.3" lengthAdjust="spacingAndGlyphs">1000</text>
<text transform="translate(17.2,227.1) rotate(-90)" class="tk" style="font-size:21.5px" text-anchor="middle" textLength="36.6" lengthAdjust="spacingAndGlyphs">PCs</text>
<text x="670.9" y="502.8" class="tk" textLength="128.8" lengthAdjust="spacingAndGlyphs">Wavenumber</text>
<text x="808.6" y="502.8" class="tk">[</text>
<text x="816.3" y="502.8" class="mi" textLength="28.5" lengthAdjust="spacingAndGlyphs">cm</text>
<text x="846.5" y="494.5" class="sup" textLength="18.8" lengthAdjust="spacingAndGlyphs">−1</text>
<text x="866.6" y="502.8" class="tk">]</text>
<line x1="692.2" y1="393.5" x2="731.9" y2="393.5" stroke="#000" stroke-width="2.1" stroke-linecap="round"/>
<line x1="692.2" y1="422" x2="731.9" y2="422" stroke="#ff0000" stroke-width="2.1" stroke-linecap="round"/>
<text x="747" y="400.3" class="tk" textLength="104.2" lengthAdjust="spacingAndGlyphs">PC1 [61%]</text>
<text x="747" y="428.6" class="tk" textLength="104.2" lengthAdjust="spacingAndGlyphs">PC2 [29%]</text>
</svg>
</body></html>
